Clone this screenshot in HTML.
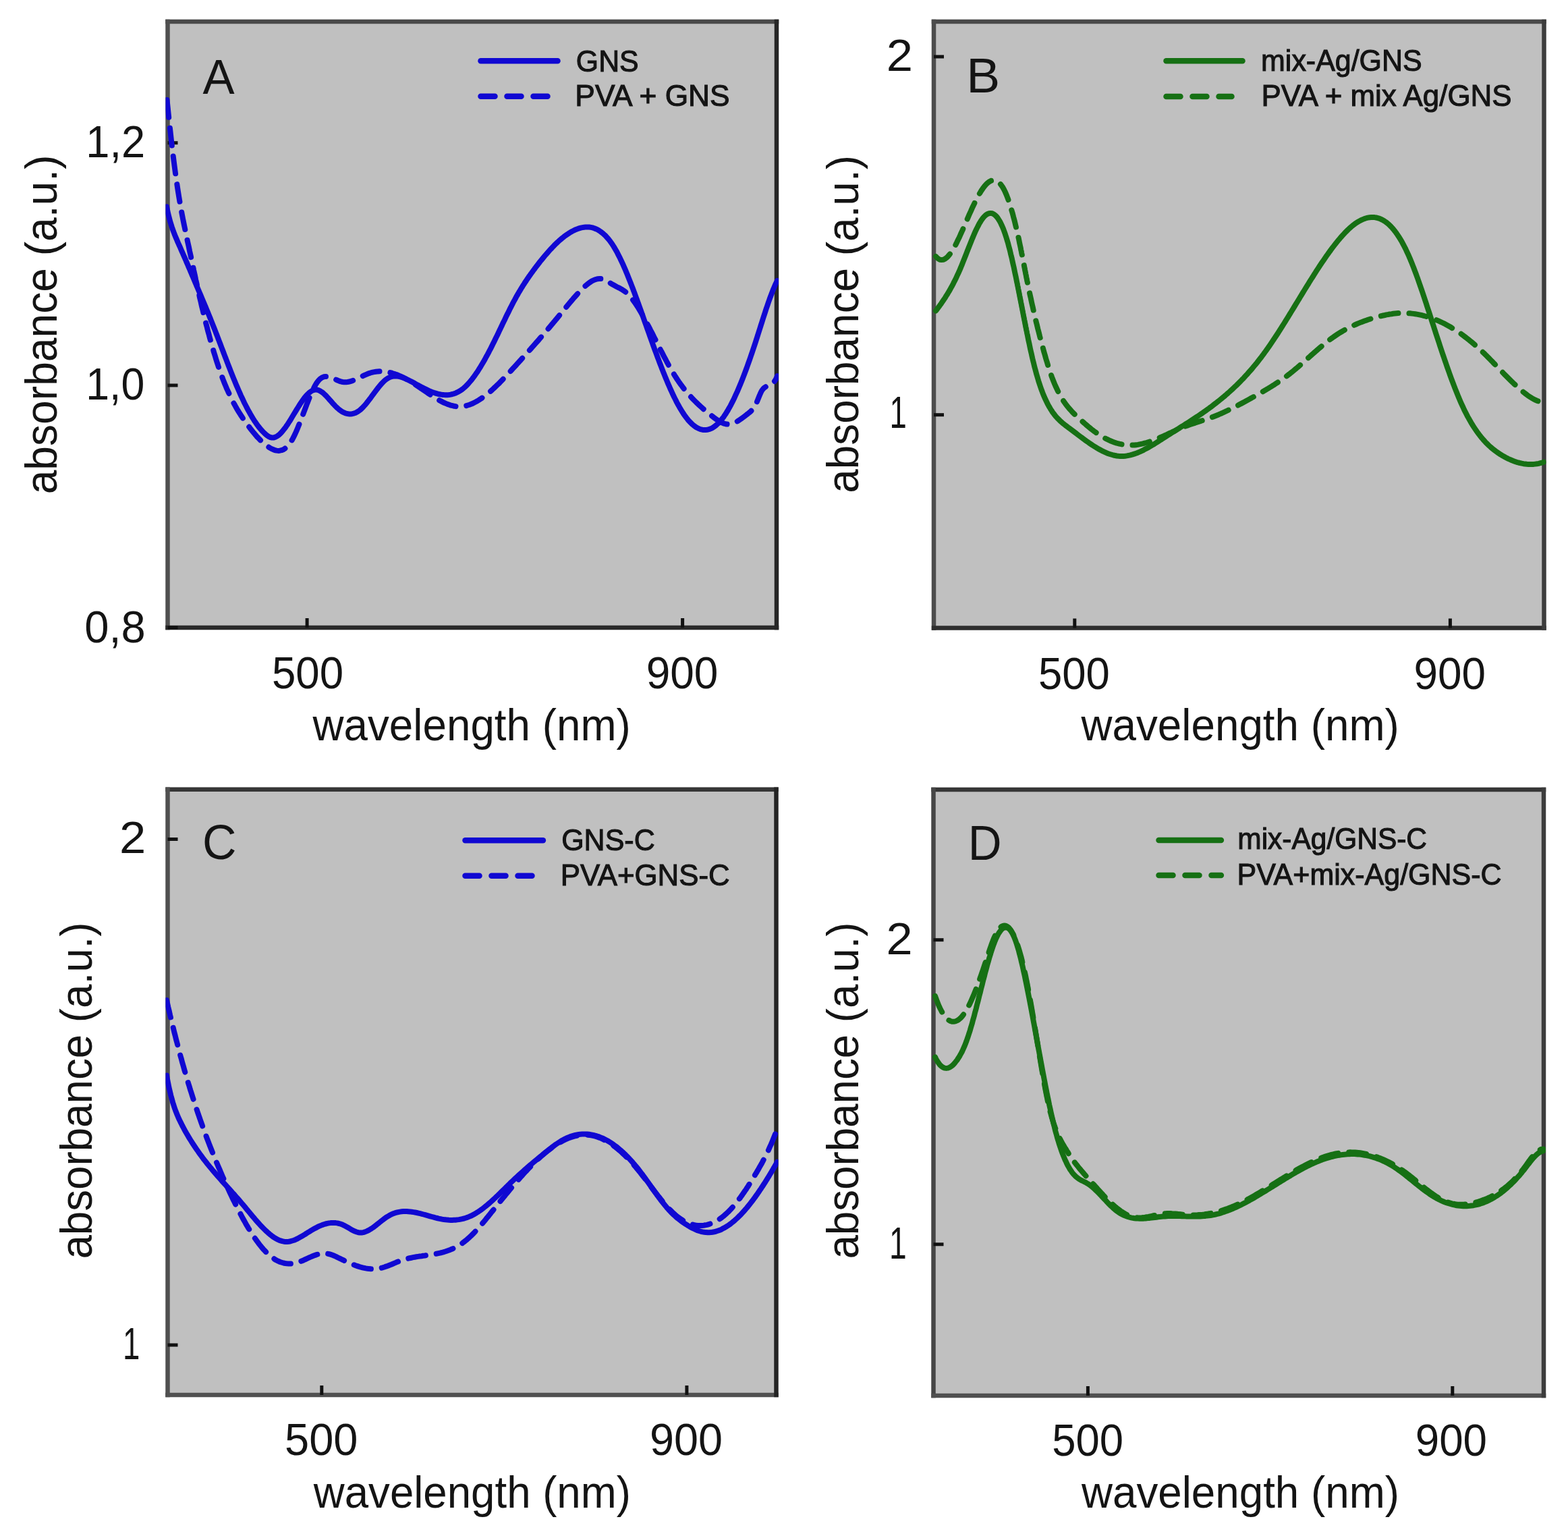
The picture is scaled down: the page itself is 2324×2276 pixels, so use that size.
<!DOCTYPE html><html><head><meta charset="utf-8"><title>Absorbance spectra</title><style>html,body{margin:0;padding:0;background:#fff;}svg{display:block;}</style></head><body>
<svg xmlns="http://www.w3.org/2000/svg" width="2324" height="2276" viewBox="0 0 2324 2276">
<rect x="0" y="0" width="2324" height="2276" fill="#fff"/>
<clipPath id="clipA"><rect x="245.5" y="32.0" width="908.5" height="898.0"/></clipPath>
<rect x="248.5" y="32.0" width="902.5" height="898.0" fill="#c0c0c0"/>
<line x1="248.5" y1="32.0" x2="1151.0" y2="32.0" stroke="#4a4a4a" stroke-width="6.5" stroke-linecap="square"/>
<line x1="248.5" y1="32.0" x2="248.5" y2="930.0" stroke="#505050" stroke-width="6.5" stroke-linecap="square"/>
<line x1="248.5" y1="930.0" x2="1151.0" y2="930.0" stroke="#2a2a2a" stroke-width="6.5" stroke-linecap="square"/>
<line x1="1151.0" y1="32.0" x2="1151.0" y2="930.0" stroke="#262626" stroke-width="6.5" stroke-linecap="square"/>
<line x1="455.1" y1="930.0" x2="455.1" y2="916.0" stroke="#111" stroke-width="5"/>
<line x1="1011.6" y1="930.0" x2="1011.6" y2="916.0" stroke="#111" stroke-width="5"/>
<line x1="248.5" y1="211.7" x2="263.5" y2="211.7" stroke="#111" stroke-width="5"/>
<line x1="248.5" y1="571.0" x2="263.5" y2="571.0" stroke="#111" stroke-width="5"/>
<line x1="248.5" y1="930.0" x2="263.5" y2="930.0" stroke="#111" stroke-width="5"/>
<g clip-path="url(#clipA)" fill="none" stroke-width="8.0" stroke-linejoin="round">
<path d="M247.5,148.0 L248.0,152.9 L248.5,157.7 L249.0,162.5 L249.5,167.3 L250.0,172.1 L250.5,176.8 L251.0,181.5 L251.5,186.1 L252.0,190.7 L252.5,195.3 L253.0,199.8 L253.5,204.2 L254.0,208.6 L254.5,213.0 L255.0,217.2 L255.5,221.4 L256.0,225.6 L256.5,229.7 L257.0,233.7 L257.5,237.7 L258.0,241.6 L258.5,245.5 L259.0,249.3 L259.5,253.0 L260.0,256.7 L260.5,260.3 L261.0,263.9 L261.5,267.4 L262.0,270.8 L262.5,274.2 L263.0,277.6 L263.5,280.9 L264.0,284.1 L264.5,287.2 L265.0,290.3 L265.5,293.4 L266.0,296.4 L266.5,299.3 L267.0,302.2 L267.5,305.1 L268.0,307.9 L268.5,310.7 L269.0,313.4 L269.5,316.1 L270.0,318.7 L270.5,321.3 L271.0,323.9 L271.5,326.4 L272.0,328.9 L272.5,331.4 L273.0,333.9 L273.8,337.5 L274.5,341.1 L275.2,344.7 L276.0,348.2 L276.8,351.7 L277.5,355.2 L278.2,358.7 L279.0,362.1 L279.8,365.6 L280.5,369.1 L281.2,372.6 L282.0,376.1 L282.8,379.6 L283.5,383.1 L284.2,386.6 L285.0,390.1 L285.8,393.6 L286.5,397.1 L287.2,400.6 L288.0,404.1 L288.8,407.6 L289.5,411.1 L290.2,414.6 L291.0,418.0 L291.8,421.5 L292.5,424.9 L293.2,428.3 L294.0,431.6 L294.8,435.0 L295.5,438.3 L296.2,441.6 L297.0,444.9 L297.8,448.1 L298.5,451.3 L299.2,454.5 L300.0,457.6 L300.8,460.8 L301.5,463.9 L302.2,466.9 L303.0,470.0 L303.8,473.0 L304.5,476.0 L305.2,479.0 L306.0,481.9 L306.8,484.8 L307.5,487.7 L308.2,490.6 L309.0,493.4 L309.8,496.2 L310.5,498.9 L311.2,501.7 L312.0,504.4 L312.8,507.1 L313.5,509.7 L314.2,512.4 L315.0,514.9 L315.8,517.5 L316.5,520.1 L317.2,522.6 L318.0,525.0 L318.8,527.5 L319.5,529.9 L320.2,532.3 L321.2,535.4 L322.2,538.5 L323.2,541.6 L324.2,544.5 L325.2,547.5 L326.2,550.3 L327.2,553.1 L328.2,555.9 L329.2,558.6 L330.2,561.3 L331.2,563.9 L332.2,566.4 L333.2,568.9 L334.2,571.3 L335.2,573.7 L336.2,576.1 L337.5,578.9 L338.8,581.7 L340.0,584.4 L341.2,587.0 L342.5,589.6 L343.8,592.1 L345.0,594.6 L346.2,597.0 L347.5,599.3 L348.8,601.6 L350.0,603.8 L351.5,606.4 L353.0,608.9 L354.5,611.3 L356.0,613.7 L357.5,616.1 L359.0,618.3 L360.5,620.6 L362.0,622.7 L363.5,624.9 L365.0,627.0 L366.5,629.0 L368.0,631.0 L369.8,633.3 L371.5,635.6 L373.2,637.8 L375.0,640.0 L376.8,642.1 L378.5,644.2 L380.2,646.2 L382.0,648.2 L383.8,650.0 L385.5,651.8 L387.5,653.8 L389.5,655.7 L391.5,657.4 L393.5,659.1 L395.5,660.6 L397.8,662.2 L400.0,663.6 L402.2,664.9 L404.8,666.0 L407.2,667.0 L409.8,667.6 L412.2,667.9 L414.8,667.7 L417.2,667.2 L419.8,666.2 L422.0,664.9 L424.0,663.4 L426.0,661.5 L427.8,659.5 L429.5,657.2 L431.0,655.0 L432.5,652.5 L433.8,650.3 L435.0,647.9 L436.2,645.4 L437.5,642.7 L438.8,639.9 L439.8,637.6 L440.8,635.2 L441.8,632.8 L442.8,630.3 L443.8,627.8 L444.8,625.3 L445.8,622.7 L446.8,620.1 L447.8,617.4 L448.8,614.8 L449.8,612.1 L450.8,609.5 L451.8,606.8 L452.8,604.2 L453.8,601.5 L454.8,598.9 L455.8,596.4 L456.8,593.8 L457.8,591.3 L458.8,588.9 L459.8,586.5 L460.8,584.2 L462.0,581.3 L463.2,578.6 L464.5,576.1 L465.8,573.6 L467.0,571.3 L468.5,568.8 L470.0,566.5 L471.8,564.2 L473.5,562.3 L475.5,560.6 L477.8,559.2 L480.2,558.3 L482.8,557.9 L485.2,557.9 L487.8,558.4 L490.2,559.1 L492.8,560.1 L495.2,561.2 L497.8,562.4 L500.2,563.5 L502.8,564.6 L505.2,565.4 L507.8,566.0 L510.2,566.3 L512.8,566.3 L515.2,566.0 L517.8,565.5 L520.2,564.9 L522.8,564.0 L525.2,563.1 L527.8,562.0 L530.2,560.8 L532.8,559.6 L535.0,558.5 L537.2,557.4 L539.8,556.2 L542.2,555.1 L544.8,554.0 L547.2,553.1 L549.8,552.3 L552.2,551.6 L554.8,551.1 L557.2,550.7 L559.8,550.4 L562.2,550.3 L564.8,550.3 L567.2,550.4 L569.8,550.6 L572.2,550.9 L574.8,551.3 L577.2,551.8 L579.8,552.4 L582.2,553.2 L584.8,554.0 L587.2,554.9 L589.8,555.8 L592.2,556.9 L594.8,558.0 L597.2,559.2 L599.5,560.3 L601.8,561.5 L604.0,562.8 L606.2,564.1 L608.5,565.4 L610.8,566.8 L613.0,568.2 L615.2,569.6 L617.5,571.1 L619.8,572.6 L622.0,574.1 L624.2,575.7 L626.5,577.2 L628.8,578.8 L631.0,580.3 L633.2,581.8 L635.5,583.4 L637.8,584.9 L640.0,586.4 L642.2,587.8 L644.5,589.2 L646.8,590.6 L649.0,591.9 L651.2,593.2 L653.5,594.4 L655.8,595.6 L658.2,596.8 L660.8,597.9 L663.2,598.9 L665.8,599.8 L668.2,600.6 L670.8,601.2 L673.2,601.8 L675.8,602.2 L678.2,602.4 L680.8,602.5 L683.2,602.4 L685.8,602.2 L688.2,601.8 L690.8,601.2 L693.2,600.5 L695.8,599.7 L698.2,598.8 L700.8,597.7 L703.2,596.5 L705.5,595.3 L707.8,594.0 L710.0,592.6 L712.2,591.2 L714.5,589.6 L716.8,588.0 L718.8,586.5 L720.8,585.0 L722.8,583.3 L724.8,581.7 L726.8,580.0 L728.8,578.2 L730.8,576.4 L732.8,574.5 L734.8,572.6 L736.8,570.7 L738.8,568.8 L740.8,566.8 L742.8,564.7 L744.5,562.9 L746.2,561.1 L748.0,559.3 L749.8,557.4 L751.5,555.6 L753.2,553.7 L755.0,551.8 L756.8,549.9 L758.5,548.0 L760.2,546.1 L762.0,544.2 L763.8,542.3 L765.5,540.3 L767.2,538.4 L769.0,536.5 L770.8,534.6 L772.5,532.6 L774.2,530.7 L776.0,528.8 L777.8,526.8 L779.5,524.9 L781.2,522.9 L783.0,521.0 L784.8,519.0 L786.5,517.1 L788.2,515.1 L790.0,513.1 L791.8,511.1 L793.5,509.2 L795.2,507.2 L797.0,505.2 L798.8,503.2 L800.5,501.2 L802.2,499.2 L804.0,497.1 L805.8,495.1 L807.5,493.1 L809.2,491.0 L811.0,489.0 L812.8,486.9 L814.5,484.9 L816.2,482.8 L818.0,480.7 L819.8,478.6 L821.5,476.5 L823.2,474.4 L825.0,472.3 L826.8,470.2 L828.5,468.1 L830.2,465.9 L832.0,463.8 L833.8,461.6 L835.5,459.5 L837.2,457.4 L839.0,455.2 L840.8,453.1 L842.5,451.0 L844.2,448.9 L846.0,446.8 L847.8,444.8 L849.5,442.7 L851.2,440.7 L853.0,438.7 L854.8,436.7 L856.5,434.8 L858.2,432.9 L860.0,431.1 L861.8,429.3 L863.8,427.3 L865.8,425.3 L867.8,423.5 L869.8,421.8 L871.8,420.2 L874.0,418.6 L876.2,417.1 L878.5,415.8 L881.0,414.7 L883.5,413.8 L886.0,413.2 L888.5,413.0 L891.0,413.1 L893.5,413.6 L896.0,414.5 L898.5,415.7 L900.8,417.0 L903.0,418.4 L905.2,419.9 L907.5,421.3 L909.8,422.6 L912.0,423.8 L914.2,425.0 L916.5,426.1 L918.8,427.2 L921.0,428.4 L923.2,429.8 L925.5,431.3 L927.5,432.9 L929.5,434.6 L931.5,436.6 L933.2,438.5 L935.0,440.5 L936.8,442.7 L938.5,445.0 L940.0,447.1 L941.5,449.3 L943.0,451.5 L944.5,453.8 L946.0,456.2 L947.5,458.7 L949.0,461.2 L950.5,463.8 L951.8,466.0 L953.0,468.2 L954.2,470.5 L955.5,472.7 L956.8,475.0 L958.0,477.4 L959.2,479.7 L960.5,482.1 L961.8,484.5 L963.0,486.9 L964.2,489.3 L965.5,491.7 L966.8,494.2 L968.0,496.6 L969.2,499.1 L970.5,501.6 L971.8,504.0 L973.0,506.5 L974.2,509.0 L975.5,511.4 L976.8,513.9 L978.0,516.4 L979.2,518.8 L980.5,521.2 L981.8,523.7 L983.0,526.1 L984.2,528.5 L985.5,530.8 L986.8,533.2 L988.0,535.5 L989.2,537.8 L990.5,540.1 L991.8,542.4 L993.0,544.6 L994.2,546.8 L995.8,549.4 L997.2,551.9 L998.8,554.4 L1000.2,556.8 L1001.8,559.1 L1003.2,561.4 L1004.8,563.7 L1006.2,565.9 L1007.8,568.0 L1009.2,570.1 L1010.8,572.1 L1012.5,574.4 L1014.2,576.7 L1016.0,578.8 L1017.8,580.9 L1019.5,583.0 L1021.2,585.0 L1023.0,587.0 L1024.8,588.9 L1026.5,590.7 L1028.2,592.5 L1030.2,594.5 L1032.2,596.5 L1034.2,598.4 L1036.2,600.3 L1038.2,602.1 L1040.2,603.9 L1042.2,605.7 L1044.2,607.4 L1046.2,609.1 L1048.2,610.7 L1050.2,612.4 L1052.2,614.0 L1054.2,615.6 L1056.2,617.2 L1058.2,618.8 L1060.2,620.3 L1062.5,621.9 L1064.8,623.4 L1067.0,624.8 L1069.2,626.0 L1071.8,627.1 L1074.2,627.9 L1076.8,628.5 L1079.2,628.7 L1081.8,628.6 L1084.2,628.1 L1086.8,627.3 L1089.2,626.2 L1091.5,625.1 L1093.8,623.8 L1096.0,622.3 L1098.2,620.8 L1100.5,619.1 L1102.5,617.6 L1104.5,616.1 L1106.5,614.5 L1108.5,613.0 L1110.5,611.4 L1112.5,609.7 L1114.5,607.6 L1116.2,605.5 L1117.8,603.3 L1119.2,600.8 L1120.5,598.4 L1121.8,595.7 L1122.8,593.3 L1123.8,590.8 L1124.8,588.3 L1125.8,585.8 L1126.8,583.5 L1128.0,580.9 L1129.2,578.7 L1130.8,576.6 L1132.5,574.8 L1134.8,573.2 L1137.2,572.0 L1139.8,571.2 L1142.2,570.2 L1144.5,568.8 L1146.5,567.0 L1148.2,564.7 L1149.8,562.2 L1151.0,559.5 L1152.0,557.1" stroke="#1008d2" stroke-dasharray="26 16" stroke-linecap="round"/>
<path d="M247.0,306.3 L247.8,309.9 L248.5,313.3 L249.2,316.6 L250.0,319.7 L250.8,322.7 L251.5,325.5 L252.2,328.2 L253.0,330.8 L253.8,333.3 L254.8,336.5 L255.8,339.4 L256.8,342.3 L257.8,344.9 L258.8,347.5 L259.8,350.0 L260.8,352.4 L261.8,354.7 L263.0,357.6 L264.2,360.4 L265.5,363.2 L266.8,366.0 L268.0,368.8 L269.2,371.7 L270.5,374.5 L271.5,376.8 L272.5,379.1 L273.5,381.4 L274.5,383.7 L275.5,386.0 L276.5,388.4 L277.5,390.7 L278.5,393.0 L279.5,395.4 L280.5,397.7 L281.5,400.0 L282.5,402.4 L283.5,404.7 L284.5,407.1 L285.5,409.4 L286.5,411.8 L287.5,414.1 L288.5,416.5 L289.5,418.9 L290.5,421.2 L291.5,423.6 L292.5,425.9 L293.5,428.3 L294.5,430.6 L295.5,433.0 L296.5,435.4 L297.5,437.7 L298.5,440.1 L299.5,442.5 L300.5,444.8 L301.5,447.2 L302.5,449.6 L303.5,452.0 L304.5,454.4 L305.5,456.8 L306.5,459.2 L307.5,461.6 L308.5,464.1 L309.5,466.5 L310.5,469.0 L311.5,471.4 L312.5,473.9 L313.5,476.4 L314.5,478.9 L315.5,481.4 L316.5,483.9 L317.5,486.5 L318.5,489.0 L319.5,491.6 L320.5,494.2 L321.5,496.8 L322.5,499.4 L323.5,502.0 L324.5,504.6 L325.5,507.2 L326.5,509.8 L327.5,512.5 L328.5,515.1 L329.5,517.7 L330.5,520.3 L331.5,523.0 L332.5,525.6 L333.5,528.2 L334.5,530.8 L335.5,533.4 L336.5,536.0 L337.5,538.6 L338.5,541.2 L339.5,543.8 L340.5,546.3 L341.5,548.9 L342.5,551.4 L343.5,553.9 L344.5,556.4 L345.5,558.9 L346.5,561.4 L347.5,563.8 L348.5,566.3 L349.5,568.7 L350.5,571.1 L351.5,573.4 L352.5,575.7 L353.5,578.0 L354.8,580.9 L356.0,583.7 L357.2,586.4 L358.5,589.1 L359.8,591.8 L361.0,594.4 L362.2,597.0 L363.5,599.5 L364.8,602.0 L366.0,604.4 L367.2,606.7 L368.5,609.0 L369.8,611.3 L371.0,613.5 L372.5,616.1 L374.0,618.6 L375.5,621.0 L377.0,623.4 L378.5,625.6 L380.0,627.8 L381.5,629.9 L383.0,631.9 L384.8,634.1 L386.5,636.2 L388.2,638.2 L390.0,640.0 L392.0,642.0 L394.0,643.8 L396.0,645.4 L398.2,646.8 L400.8,648.0 L403.2,648.5 L405.8,648.4 L408.2,647.6 L410.5,646.5 L412.8,644.9 L414.8,643.2 L416.8,641.2 L418.5,639.2 L420.2,637.1 L422.0,634.8 L423.5,632.8 L425.0,630.6 L426.5,628.4 L428.0,626.0 L429.5,623.7 L431.0,621.3 L432.5,618.8 L434.0,616.3 L435.5,613.8 L437.0,611.4 L438.5,608.9 L440.0,606.4 L441.5,604.0 L443.0,601.6 L444.5,599.2 L446.0,596.9 L447.5,594.7 L449.0,592.6 L450.5,590.5 L452.2,588.3 L454.0,586.2 L455.8,584.3 L457.8,582.4 L459.8,580.7 L462.0,579.2 L464.5,578.1 L467.0,577.5 L469.5,577.5 L472.0,578.1 L474.5,579.3 L476.8,580.8 L478.8,582.3 L480.8,584.1 L482.8,586.0 L484.5,587.8 L486.2,589.7 L488.0,591.7 L489.8,593.7 L491.5,595.7 L493.2,597.7 L495.0,599.6 L496.8,601.5 L498.8,603.5 L500.8,605.3 L502.8,607.0 L505.0,608.7 L507.2,610.1 L509.5,611.3 L512.0,612.3 L514.5,613.0 L517.0,613.4 L519.5,613.5 L522.0,613.2 L524.5,612.6 L527.0,611.7 L529.2,610.5 L531.5,609.1 L533.5,607.6 L535.5,605.9 L537.5,603.9 L539.2,602.1 L541.0,600.1 L542.8,598.0 L544.5,595.8 L546.2,593.6 L548.0,591.3 L549.5,589.3 L551.0,587.2 L552.5,585.2 L554.0,583.1 L555.5,581.1 L557.0,579.1 L558.8,576.8 L560.5,574.5 L562.2,572.4 L564.0,570.3 L565.8,568.3 L567.5,566.5 L569.5,564.5 L571.5,562.8 L573.8,561.2 L576.0,559.8 L578.5,558.7 L581.0,557.9 L583.5,557.5 L586.0,557.3 L588.5,557.5 L591.0,557.8 L593.5,558.4 L596.0,559.2 L598.5,560.1 L601.0,561.2 L603.5,562.3 L605.8,563.4 L608.0,564.6 L610.2,565.7 L612.5,566.9 L614.8,568.1 L617.0,569.4 L619.2,570.6 L621.5,571.8 L623.8,573.0 L626.0,574.2 L628.2,575.3 L630.5,576.4 L633.0,577.6 L635.5,578.8 L638.0,579.9 L640.5,580.9 L643.0,581.8 L645.5,582.6 L648.0,583.4 L650.5,584.0 L653.0,584.5 L655.5,584.9 L658.0,585.1 L660.5,585.2 L663.0,585.2 L665.5,585.0 L668.0,584.6 L670.5,584.0 L673.0,583.3 L675.5,582.4 L678.0,581.2 L680.2,580.0 L682.5,578.6 L684.8,577.1 L686.8,575.5 L688.8,573.8 L690.8,571.9 L692.8,569.9 L694.5,568.0 L696.2,566.0 L698.0,563.9 L699.8,561.7 L701.5,559.4 L703.0,557.4 L704.5,555.3 L706.0,553.1 L707.5,550.9 L709.0,548.6 L710.5,546.2 L712.0,543.8 L713.5,541.3 L715.0,538.8 L716.5,536.2 L717.8,534.0 L719.0,531.8 L720.2,529.5 L721.5,527.2 L722.8,524.9 L724.0,522.6 L725.2,520.2 L726.5,517.8 L727.8,515.3 L729.0,512.9 L730.2,510.4 L731.5,507.9 L732.8,505.4 L734.0,502.8 L735.2,500.3 L736.5,497.7 L737.8,495.1 L739.0,492.5 L740.2,489.9 L741.5,487.3 L742.8,484.6 L744.0,482.0 L745.2,479.4 L746.5,476.8 L747.8,474.2 L749.0,471.6 L750.2,469.0 L751.5,466.4 L752.8,463.9 L754.0,461.4 L755.2,458.9 L756.5,456.4 L757.8,453.9 L759.0,451.5 L760.2,449.1 L761.5,446.7 L762.8,444.4 L764.0,442.1 L765.2,439.8 L766.5,437.6 L767.8,435.4 L769.2,432.9 L770.8,430.3 L772.2,427.9 L773.8,425.4 L775.2,423.0 L776.8,420.7 L778.2,418.4 L779.8,416.1 L781.2,413.9 L782.8,411.7 L784.2,409.5 L785.8,407.4 L787.2,405.3 L788.8,403.2 L790.2,401.2 L791.8,399.1 L793.2,397.1 L795.0,394.8 L796.8,392.5 L798.5,390.3 L800.2,388.0 L802.0,385.8 L803.8,383.7 L805.5,381.5 L807.2,379.4 L809.0,377.4 L810.8,375.3 L812.5,373.3 L814.2,371.4 L816.0,369.4 L817.8,367.6 L819.5,365.7 L821.2,363.9 L823.2,361.9 L825.2,360.0 L827.2,358.1 L829.2,356.3 L831.2,354.6 L833.2,352.9 L835.2,351.3 L837.2,349.7 L839.5,348.1 L841.8,346.6 L844.0,345.1 L846.2,343.8 L848.5,342.5 L850.8,341.4 L853.2,340.2 L855.8,339.2 L858.2,338.4 L860.8,337.6 L863.2,337.1 L865.8,336.7 L868.2,336.4 L870.8,336.4 L873.2,336.5 L875.8,336.9 L878.2,337.4 L880.8,338.2 L883.2,339.2 L885.8,340.4 L888.0,341.7 L890.2,343.2 L892.2,344.7 L894.2,346.4 L896.2,348.2 L898.2,350.2 L900.0,352.2 L901.8,354.2 L903.5,356.4 L905.0,358.4 L906.5,360.6 L908.0,362.8 L909.5,365.1 L911.0,367.6 L912.5,370.2 L913.8,372.4 L915.0,374.7 L916.2,377.1 L917.5,379.6 L918.8,382.1 L920.0,384.7 L921.2,387.3 L922.5,390.0 L923.8,392.8 L925.0,395.6 L926.0,397.9 L927.0,400.2 L928.0,402.6 L929.0,405.0 L930.0,407.4 L931.0,409.9 L932.0,412.4 L933.0,414.9 L934.0,417.4 L935.0,420.0 L936.0,422.6 L937.0,425.2 L938.0,427.8 L939.0,430.5 L940.0,433.2 L941.0,435.8 L942.0,438.6 L943.0,441.3 L944.0,444.0 L945.0,446.8 L946.0,449.5 L947.0,452.3 L948.0,455.1 L949.0,457.9 L950.0,460.7 L951.0,463.5 L952.0,466.3 L953.0,469.1 L954.0,472.0 L955.0,474.8 L956.0,477.6 L957.0,480.4 L958.0,483.3 L959.0,486.1 L960.0,488.9 L961.0,491.7 L962.0,494.5 L963.0,497.3 L964.0,500.1 L965.0,502.9 L966.0,505.7 L967.0,508.5 L968.0,511.3 L969.0,514.0 L970.0,516.8 L971.0,519.5 L972.0,522.2 L973.0,524.9 L974.0,527.6 L975.0,530.3 L976.0,532.9 L977.0,535.6 L978.0,538.2 L979.0,540.8 L980.0,543.4 L981.0,546.0 L982.0,548.5 L983.0,551.1 L984.0,553.6 L985.0,556.0 L986.0,558.5 L987.0,560.9 L988.0,563.3 L989.0,565.7 L990.0,568.1 L991.0,570.4 L992.0,572.7 L993.2,575.5 L994.5,578.3 L995.8,581.1 L997.0,583.7 L998.2,586.4 L999.5,589.0 L1000.8,591.5 L1002.0,593.9 L1003.2,596.4 L1004.5,598.7 L1005.8,601.0 L1007.0,603.2 L1008.5,605.8 L1010.0,608.3 L1011.5,610.7 L1013.0,613.0 L1014.5,615.2 L1016.0,617.3 L1017.8,619.6 L1019.5,621.8 L1021.2,623.8 L1023.0,625.7 L1025.0,627.7 L1027.0,629.5 L1029.0,631.1 L1031.2,632.7 L1033.5,634.0 L1035.8,635.1 L1038.2,636.1 L1040.8,636.7 L1043.2,637.0 L1045.8,637.1 L1048.2,636.8 L1050.8,636.2 L1053.2,635.3 L1055.8,634.1 L1058.0,632.7 L1060.2,631.1 L1062.2,629.4 L1064.2,627.6 L1066.0,625.8 L1067.8,623.8 L1069.5,621.7 L1071.2,619.4 L1072.8,617.4 L1074.2,615.2 L1075.8,612.9 L1077.2,610.5 L1078.8,608.0 L1080.2,605.4 L1081.5,603.2 L1082.8,600.9 L1084.0,598.5 L1085.2,596.1 L1086.5,593.6 L1087.8,591.0 L1089.0,588.4 L1090.2,585.7 L1091.5,582.9 L1092.8,580.1 L1094.0,577.2 L1095.0,574.9 L1096.0,572.5 L1097.0,570.1 L1098.0,567.7 L1099.0,565.2 L1100.0,562.7 L1101.0,560.2 L1102.0,557.6 L1103.0,555.0 L1104.0,552.3 L1105.0,549.7 L1106.0,547.0 L1107.0,544.3 L1108.0,541.5 L1109.0,538.7 L1110.0,535.9 L1111.0,533.1 L1112.0,530.2 L1113.0,527.3 L1114.0,524.4 L1115.0,521.4 L1116.0,518.5 L1117.0,515.5 L1118.0,512.5 L1119.0,509.4 L1120.0,506.4 L1121.0,503.3 L1122.0,500.2 L1123.0,497.1 L1124.0,493.9 L1125.0,490.8 L1126.0,487.6 L1127.0,484.5 L1128.0,481.3 L1129.0,478.2 L1130.0,475.1 L1131.0,471.9 L1132.0,468.8 L1133.0,465.7 L1134.0,462.7 L1135.0,459.6 L1136.0,456.6 L1137.0,453.7 L1138.0,450.7 L1139.0,447.8 L1140.0,445.0 L1141.0,442.2 L1142.0,439.5 L1143.0,436.8 L1144.0,434.2 L1145.0,431.6 L1146.0,429.1 L1147.0,426.7 L1148.0,424.4 L1149.2,421.6 L1150.5,418.9 L1151.8,416.4 L1152.0,415.9" stroke="#1008d2" stroke-linecap="round"/>
</g>
<line x1="712.5" y1="90.2" x2="826.5" y2="90.2" stroke="#1008d2" stroke-width="8.5" stroke-linecap="round"/>
<line x1="712.5" y1="142.8" x2="811.5" y2="142.8" stroke="#1008d2" stroke-width="8.5" stroke-linecap="round" stroke-dasharray="21 18"/>
<clipPath id="clipB"><rect x="1381.0" y="32.0" width="910.5" height="898.5"/></clipPath>
<rect x="1384.0" y="32.0" width="904.5" height="898.5" fill="#c0c0c0"/>
<line x1="1384.0" y1="32.0" x2="2288.5" y2="32.0" stroke="#4a4a4a" stroke-width="6.5" stroke-linecap="square"/>
<line x1="1384.0" y1="32.0" x2="1384.0" y2="930.5" stroke="#4c4c4c" stroke-width="6.5" stroke-linecap="square"/>
<line x1="1384.0" y1="930.5" x2="2288.5" y2="930.5" stroke="#2e2e2e" stroke-width="6.5" stroke-linecap="square"/>
<line x1="2288.5" y1="32.0" x2="2288.5" y2="930.5" stroke="#3c3c3c" stroke-width="6.5" stroke-linecap="square"/>
<line x1="1592.8" y1="930.5" x2="1592.8" y2="916.5" stroke="#111" stroke-width="5"/>
<line x1="2149.4" y1="930.5" x2="2149.4" y2="916.5" stroke="#111" stroke-width="5"/>
<line x1="1384.0" y1="84.0" x2="1399.0" y2="84.0" stroke="#111" stroke-width="5"/>
<line x1="1384.0" y1="614.7" x2="1399.0" y2="614.7" stroke="#111" stroke-width="5"/>
<g clip-path="url(#clipB)" fill="none" stroke-width="8.0" stroke-linejoin="round">
<path d="M1387.0,379.9 L1388.8,381.9 L1390.8,383.5 L1393.0,384.7 L1395.5,385.1 L1398.0,384.8 L1400.5,383.6 L1402.8,382.0 L1404.8,380.2 L1406.5,378.2 L1408.2,376.0 L1409.8,373.9 L1411.2,371.6 L1412.8,369.2 L1414.2,366.5 L1415.5,364.3 L1416.8,361.9 L1418.0,359.5 L1419.2,356.9 L1420.5,354.3 L1421.8,351.7 L1423.0,349.0 L1424.2,346.2 L1425.5,343.4 L1426.8,340.6 L1428.0,337.7 L1429.0,335.4 L1430.0,333.1 L1431.0,330.8 L1432.0,328.5 L1433.0,326.2 L1434.0,323.9 L1435.0,321.6 L1436.2,318.7 L1437.5,315.9 L1438.8,313.1 L1440.0,310.3 L1441.2,307.6 L1442.5,304.9 L1443.8,302.3 L1445.0,299.7 L1446.2,297.2 L1447.5,294.8 L1448.8,292.4 L1450.0,290.1 L1451.2,287.9 L1452.8,285.3 L1454.2,282.9 L1455.8,280.6 L1457.2,278.5 L1459.0,276.2 L1460.8,274.1 L1462.5,272.3 L1464.5,270.5 L1466.8,268.9 L1469.0,267.7 L1471.5,267.1 L1474.0,267.0 L1476.5,267.7 L1478.8,268.9 L1480.8,270.5 L1482.5,272.3 L1484.2,274.6 L1485.8,276.8 L1487.2,279.3 L1488.5,281.7 L1489.8,284.3 L1491.0,287.1 L1492.0,289.5 L1493.0,292.1 L1494.0,294.7 L1495.0,297.5 L1496.0,300.5 L1497.0,303.6 L1497.8,306.0 L1498.5,308.4 L1499.2,311.0 L1500.0,313.6 L1500.8,316.2 L1501.5,319.0 L1502.2,321.8 L1503.0,324.6 L1503.8,327.6 L1504.5,330.6 L1505.2,333.6 L1506.0,336.8 L1506.8,340.0 L1507.5,343.2 L1508.2,346.5 L1509.0,349.9 L1509.8,353.3 L1510.5,356.8 L1511.2,360.4 L1512.0,364.0 L1512.8,367.6 L1513.2,370.1 L1513.8,372.6 L1514.2,375.1 L1514.8,377.6 L1515.2,380.1 L1515.8,382.7 L1516.2,385.2 L1516.8,387.8 L1517.2,390.3 L1517.8,392.9 L1518.2,395.4 L1518.8,398.0 L1519.2,400.5 L1519.8,403.1 L1520.2,405.6 L1520.8,408.1 L1521.2,410.7 L1521.8,413.2 L1522.2,415.7 L1522.8,418.1 L1523.2,420.6 L1524.0,424.2 L1524.8,427.8 L1525.5,431.4 L1526.2,435.0 L1527.0,438.5 L1527.8,441.9 L1528.5,445.4 L1529.2,448.8 L1530.0,452.1 L1530.8,455.5 L1531.5,458.8 L1532.2,462.0 L1533.0,465.3 L1533.8,468.5 L1534.5,471.6 L1535.2,474.8 L1536.0,477.9 L1536.8,481.0 L1537.5,484.0 L1538.2,487.0 L1539.0,490.0 L1539.8,493.0 L1540.5,495.9 L1541.2,498.8 L1542.0,501.7 L1542.8,504.5 L1543.5,507.3 L1544.2,510.1 L1545.0,512.9 L1545.8,515.6 L1546.5,518.3 L1547.2,521.0 L1548.0,523.7 L1548.8,526.3 L1549.5,528.9 L1550.2,531.4 L1551.0,534.0 L1551.8,536.4 L1552.5,538.9 L1553.2,541.3 L1554.2,544.5 L1555.2,547.5 L1556.2,550.5 L1557.2,553.5 L1558.2,556.3 L1559.2,559.1 L1560.2,561.7 L1561.2,564.3 L1562.2,566.8 L1563.2,569.2 L1564.2,571.5 L1565.5,574.3 L1566.8,577.0 L1568.0,579.6 L1569.2,582.1 L1570.5,584.4 L1571.8,586.7 L1573.0,588.9 L1574.5,591.3 L1576.0,593.7 L1577.5,595.9 L1579.0,598.1 L1580.5,600.1 L1582.2,602.3 L1584.0,604.5 L1585.8,606.5 L1587.5,608.4 L1589.2,610.3 L1591.2,612.3 L1593.2,614.3 L1595.2,616.2 L1597.2,618.1 L1599.2,619.9 L1601.2,621.7 L1603.2,623.6 L1605.2,625.4 L1607.2,627.1 L1609.2,628.9 L1611.2,630.6 L1613.2,632.3 L1615.2,633.9 L1617.2,635.6 L1619.2,637.1 L1621.2,638.7 L1623.5,640.3 L1625.8,641.9 L1628.0,643.4 L1630.2,644.9 L1632.5,646.3 L1634.8,647.6 L1637.0,648.9 L1639.2,650.1 L1641.5,651.2 L1644.0,652.4 L1646.5,653.5 L1649.0,654.5 L1651.5,655.4 L1654.0,656.3 L1656.5,657.0 L1659.0,657.7 L1661.5,658.2 L1664.0,658.7 L1666.5,659.1 L1669.0,659.4 L1671.5,659.6 L1674.0,659.7 L1676.5,659.7 L1679.0,659.6 L1681.5,659.5 L1684.0,659.2 L1686.5,658.9 L1689.0,658.4 L1691.5,657.9 L1694.0,657.4 L1696.5,656.7 L1699.0,656.0 L1701.5,655.2 L1704.0,654.4 L1706.5,653.5 L1709.0,652.6 L1711.5,651.6 L1714.0,650.6 L1716.5,649.6 L1719.0,648.5 L1721.5,647.4 L1724.0,646.3 L1726.5,645.2 L1729.0,644.1 L1731.5,642.9 L1734.0,641.7 L1736.5,640.6 L1739.0,639.4 L1741.5,638.3 L1744.0,637.2 L1746.5,636.1 L1749.0,635.0 L1751.5,633.9 L1754.0,632.9 L1756.5,631.9 L1759.0,630.9 L1761.5,630.0 L1764.0,629.1 L1766.5,628.2 L1769.0,627.4 L1771.5,626.6 L1774.0,625.7 L1776.5,624.9 L1779.0,624.1 L1781.5,623.3 L1784.0,622.5 L1786.5,621.7 L1789.0,620.9 L1791.5,620.0 L1794.0,619.1 L1796.5,618.2 L1799.0,617.2 L1801.5,616.2 L1804.0,615.2 L1806.5,614.2 L1809.0,613.1 L1811.5,612.0 L1814.0,610.8 L1816.5,609.7 L1819.0,608.5 L1821.5,607.3 L1823.8,606.2 L1826.0,605.1 L1828.2,603.9 L1830.5,602.8 L1832.8,601.6 L1835.0,600.5 L1837.2,599.3 L1839.5,598.1 L1841.8,596.9 L1844.0,595.7 L1846.2,594.5 L1848.5,593.2 L1850.8,592.0 L1853.0,590.8 L1855.2,589.5 L1857.5,588.3 L1859.8,587.0 L1862.0,585.8 L1864.2,584.5 L1866.5,583.3 L1868.8,582.0 L1871.0,580.7 L1873.2,579.4 L1875.5,578.1 L1877.8,576.7 L1880.0,575.4 L1882.2,574.0 L1884.5,572.6 L1886.8,571.2 L1889.0,569.8 L1891.2,568.3 L1893.5,566.8 L1895.8,565.3 L1898.0,563.8 L1900.2,562.2 L1902.5,560.6 L1904.8,559.0 L1907.0,557.3 L1909.0,555.8 L1911.0,554.3 L1913.0,552.7 L1915.0,551.1 L1917.0,549.5 L1919.0,547.8 L1921.0,546.1 L1923.0,544.5 L1925.0,542.7 L1927.0,541.0 L1929.0,539.3 L1931.0,537.5 L1933.0,535.7 L1935.0,534.0 L1937.0,532.2 L1939.0,530.4 L1941.0,528.6 L1943.0,526.8 L1945.0,525.0 L1947.0,523.3 L1949.0,521.5 L1951.0,519.8 L1953.0,518.0 L1955.0,516.3 L1957.0,514.6 L1959.0,512.9 L1961.0,511.2 L1963.0,509.6 L1965.0,507.9 L1967.0,506.4 L1969.0,504.8 L1971.0,503.3 L1973.2,501.6 L1975.5,500.0 L1977.8,498.4 L1980.0,496.9 L1982.2,495.4 L1984.5,493.9 L1986.8,492.5 L1989.0,491.2 L1991.2,489.9 L1993.5,488.6 L1995.8,487.4 L1998.0,486.2 L2000.2,485.1 L2002.5,484.0 L2005.0,482.8 L2007.5,481.6 L2010.0,480.5 L2012.5,479.4 L2015.0,478.4 L2017.5,477.4 L2020.0,476.5 L2022.5,475.6 L2025.0,474.7 L2027.5,473.8 L2030.0,473.0 L2032.5,472.2 L2035.0,471.5 L2037.5,470.7 L2040.0,470.0 L2042.5,469.4 L2045.0,468.7 L2047.5,468.1 L2050.0,467.5 L2052.5,467.0 L2055.0,466.4 L2057.5,466.0 L2060.0,465.5 L2062.5,465.2 L2065.0,464.8 L2067.5,464.5 L2070.0,464.3 L2072.5,464.1 L2075.0,464.0 L2077.5,463.9 L2080.0,463.9 L2082.5,463.9 L2085.0,464.0 L2087.5,464.1 L2090.0,464.3 L2092.5,464.6 L2095.0,464.9 L2097.5,465.2 L2100.0,465.6 L2102.5,466.1 L2105.0,466.6 L2107.5,467.2 L2110.0,467.8 L2112.5,468.5 L2115.0,469.2 L2117.5,470.0 L2120.0,470.8 L2122.5,471.7 L2125.0,472.6 L2127.5,473.6 L2130.0,474.6 L2132.5,475.7 L2135.0,476.8 L2137.5,478.0 L2139.8,479.1 L2142.0,480.3 L2144.2,481.5 L2146.5,482.7 L2148.8,484.0 L2151.0,485.3 L2153.2,486.7 L2155.5,488.1 L2157.8,489.5 L2160.0,491.0 L2162.2,492.5 L2164.5,494.1 L2166.8,495.7 L2169.0,497.3 L2171.2,499.0 L2173.2,500.5 L2175.2,502.1 L2177.2,503.7 L2179.2,505.3 L2181.2,506.9 L2183.2,508.6 L2185.2,510.3 L2187.2,512.1 L2189.2,513.9 L2191.2,515.7 L2193.2,517.5 L2195.2,519.4 L2197.2,521.3 L2199.2,523.2 L2201.2,525.2 L2203.2,527.1 L2205.2,529.2 L2207.2,531.2 L2209.0,533.0 L2210.8,534.8 L2212.5,536.6 L2214.2,538.4 L2216.0,540.2 L2217.8,542.0 L2219.5,543.9 L2221.2,545.7 L2223.0,547.5 L2224.8,549.3 L2226.5,551.2 L2228.2,553.0 L2230.0,554.8 L2231.8,556.6 L2233.8,558.6 L2235.8,560.6 L2237.8,562.6 L2239.8,564.6 L2241.8,566.5 L2243.8,568.5 L2245.8,570.3 L2247.8,572.2 L2249.8,574.0 L2251.8,575.8 L2253.8,577.5 L2255.8,579.2 L2257.8,580.9 L2259.8,582.5 L2261.8,584.0 L2264.0,585.7 L2266.2,587.2 L2268.5,588.7 L2270.8,590.1 L2273.0,591.4 L2275.2,592.5 L2277.8,593.7 L2280.2,594.6 L2282.8,595.4 L2285.2,596.0 L2287.8,596.4 L2288.0,596.4" stroke="#167014" stroke-dasharray="26 16" stroke-linecap="round"/>
<path d="M1387.0,460.6 L1388.8,458.3 L1390.2,456.3 L1391.8,454.2 L1393.2,452.2 L1394.8,450.1 L1396.2,447.9 L1397.8,445.7 L1399.2,443.5 L1400.8,441.2 L1402.2,438.8 L1403.8,436.4 L1405.2,434.0 L1406.8,431.4 L1408.0,429.3 L1409.2,427.0 L1410.5,424.8 L1411.8,422.4 L1413.0,420.1 L1414.2,417.6 L1415.5,415.1 L1416.8,412.5 L1418.0,409.9 L1419.2,407.2 L1420.5,404.5 L1421.8,401.6 L1422.8,399.3 L1423.8,396.9 L1424.8,394.5 L1425.8,392.1 L1426.8,389.6 L1427.8,387.1 L1428.8,384.6 L1429.8,382.1 L1430.8,379.5 L1431.8,377.0 L1432.8,374.4 L1433.8,371.8 L1434.8,369.3 L1435.8,366.7 L1436.8,364.2 L1437.8,361.7 L1438.8,359.2 L1439.8,356.7 L1440.8,354.3 L1441.8,351.9 L1442.8,349.5 L1443.8,347.2 L1445.0,344.4 L1446.2,341.7 L1447.5,339.0 L1448.8,336.5 L1450.0,334.1 L1451.2,331.7 L1452.5,329.6 L1454.0,327.1 L1455.5,324.9 L1457.2,322.6 L1459.0,320.6 L1461.0,318.8 L1463.2,317.2 L1465.8,316.2 L1468.2,315.9 L1470.8,316.3 L1473.2,317.5 L1475.2,319.1 L1477.0,320.9 L1478.8,323.1 L1480.2,325.3 L1481.8,327.8 L1483.0,330.1 L1484.2,332.7 L1485.5,335.5 L1486.5,337.8 L1487.5,340.4 L1488.5,343.1 L1489.5,345.9 L1490.5,348.9 L1491.5,352.0 L1492.2,354.4 L1493.0,357.0 L1493.8,359.6 L1494.5,362.3 L1495.2,365.1 L1496.0,367.9 L1496.8,370.9 L1497.5,373.9 L1498.2,377.0 L1499.0,380.1 L1499.8,383.3 L1500.5,386.6 L1501.2,389.9 L1502.0,393.3 L1502.8,396.7 L1503.5,400.2 L1504.2,403.7 L1505.0,407.3 L1505.8,410.9 L1506.5,414.5 L1507.2,418.2 L1507.8,420.6 L1508.2,423.1 L1508.8,425.6 L1509.2,428.1 L1509.8,430.6 L1510.2,433.1 L1510.8,435.7 L1511.2,438.2 L1511.8,440.7 L1512.2,443.3 L1512.8,445.8 L1513.2,448.4 L1513.8,450.9 L1514.2,453.5 L1514.8,456.0 L1515.2,458.6 L1515.8,461.2 L1516.2,463.7 L1516.8,466.3 L1517.2,468.8 L1517.8,471.4 L1518.2,473.9 L1518.8,476.4 L1519.2,478.9 L1519.8,481.5 L1520.2,484.0 L1520.8,486.5 L1521.2,489.0 L1521.8,491.4 L1522.2,493.9 L1522.8,496.3 L1523.5,500.0 L1524.2,503.6 L1525.0,507.2 L1525.8,510.7 L1526.5,514.2 L1527.2,517.7 L1528.0,521.1 L1528.8,524.4 L1529.5,527.7 L1530.2,530.9 L1531.0,534.1 L1531.8,537.2 L1532.5,540.2 L1533.2,543.2 L1534.0,546.0 L1534.8,548.9 L1535.5,551.6 L1536.2,554.3 L1537.0,556.9 L1537.8,559.5 L1538.5,562.0 L1539.2,564.4 L1540.2,567.5 L1541.2,570.6 L1542.2,573.5 L1543.2,576.3 L1544.2,579.0 L1545.2,581.7 L1546.2,584.2 L1547.2,586.6 L1548.2,589.0 L1549.5,591.8 L1550.8,594.5 L1552.0,597.0 L1553.2,599.4 L1554.5,601.7 L1555.8,603.9 L1557.2,606.4 L1558.8,608.8 L1560.2,611.0 L1561.8,613.0 L1563.5,615.3 L1565.2,617.4 L1567.0,619.4 L1568.8,621.2 L1570.8,623.2 L1572.8,625.0 L1574.8,626.8 L1576.8,628.4 L1578.8,630.0 L1580.8,631.5 L1583.0,633.2 L1585.2,634.8 L1587.5,636.5 L1589.5,638.0 L1591.5,639.5 L1593.5,641.0 L1595.5,642.5 L1597.5,644.1 L1599.5,645.6 L1601.5,647.1 L1603.8,648.8 L1606.0,650.4 L1608.2,652.1 L1610.5,653.7 L1612.8,655.3 L1615.0,656.9 L1617.2,658.4 L1619.5,659.9 L1621.8,661.3 L1624.0,662.7 L1626.2,664.1 L1628.5,665.4 L1630.8,666.6 L1633.0,667.8 L1635.2,668.9 L1637.8,670.1 L1640.2,671.2 L1642.8,672.2 L1645.2,673.0 L1647.8,673.8 L1650.2,674.5 L1652.8,675.0 L1655.2,675.5 L1657.8,675.8 L1660.2,676.0 L1662.8,676.0 L1665.2,675.9 L1667.8,675.7 L1670.2,675.4 L1672.8,674.9 L1675.2,674.4 L1677.8,673.7 L1680.2,672.9 L1682.8,672.1 L1685.2,671.2 L1687.8,670.1 L1690.2,669.1 L1692.8,667.9 L1695.0,666.8 L1697.2,665.6 L1699.5,664.4 L1701.8,663.2 L1704.0,661.9 L1706.2,660.6 L1708.5,659.2 L1710.8,657.9 L1713.0,656.5 L1715.2,655.1 L1717.5,653.6 L1719.8,652.2 L1722.0,650.8 L1724.2,649.3 L1726.5,647.9 L1728.8,646.4 L1731.0,645.0 L1733.2,643.6 L1735.5,642.1 L1737.8,640.7 L1740.0,639.3 L1742.2,637.9 L1744.5,636.5 L1746.8,635.1 L1749.0,633.6 L1751.2,632.2 L1753.5,630.8 L1755.8,629.4 L1758.0,627.9 L1760.2,626.5 L1762.5,625.1 L1764.8,623.6 L1767.0,622.1 L1769.2,620.7 L1771.5,619.2 L1773.8,617.7 L1776.0,616.2 L1778.2,614.7 L1780.5,613.1 L1782.8,611.6 L1785.0,610.0 L1787.2,608.4 L1789.5,606.8 L1791.8,605.2 L1794.0,603.5 L1796.2,601.9 L1798.2,600.3 L1800.2,598.8 L1802.2,597.3 L1804.2,595.7 L1806.2,594.1 L1808.2,592.5 L1810.2,590.9 L1812.2,589.2 L1814.2,587.6 L1816.2,585.9 L1818.2,584.1 L1820.2,582.4 L1822.2,580.6 L1824.2,578.8 L1826.2,577.0 L1828.2,575.1 L1830.2,573.2 L1832.2,571.3 L1834.2,569.3 L1836.2,567.3 L1838.2,565.3 L1840.0,563.5 L1841.8,561.7 L1843.5,559.9 L1845.2,558.0 L1847.0,556.1 L1848.8,554.2 L1850.5,552.2 L1852.2,550.2 L1854.0,548.2 L1855.8,546.2 L1857.5,544.1 L1859.2,542.0 L1861.0,539.9 L1862.8,537.7 L1864.5,535.5 L1866.2,533.3 L1868.0,531.0 L1869.8,528.7 L1871.5,526.4 L1873.0,524.4 L1874.5,522.3 L1876.0,520.2 L1877.5,518.1 L1879.0,516.0 L1880.5,513.9 L1882.0,511.7 L1883.5,509.5 L1885.0,507.3 L1886.5,505.1 L1888.0,502.8 L1889.5,500.6 L1891.0,498.3 L1892.5,496.0 L1894.0,493.7 L1895.5,491.3 L1897.0,489.0 L1898.5,486.6 L1900.0,484.3 L1901.5,481.9 L1903.0,479.5 L1904.5,477.1 L1906.0,474.7 L1907.5,472.2 L1909.0,469.8 L1910.5,467.4 L1912.0,464.9 L1913.5,462.5 L1915.0,460.0 L1916.5,457.6 L1918.0,455.1 L1919.5,452.6 L1921.0,450.2 L1922.5,447.7 L1924.0,445.2 L1925.5,442.8 L1927.0,440.3 L1928.5,437.9 L1930.0,435.4 L1931.5,432.9 L1933.0,430.5 L1934.5,428.0 L1936.0,425.6 L1937.5,423.2 L1939.0,420.8 L1940.5,418.3 L1942.0,415.9 L1943.5,413.5 L1945.0,411.2 L1946.5,408.8 L1948.0,406.4 L1949.5,404.1 L1951.0,401.7 L1952.5,399.4 L1954.0,397.1 L1955.5,394.8 L1957.0,392.6 L1958.5,390.3 L1960.0,388.1 L1961.5,385.9 L1963.0,383.7 L1964.5,381.5 L1966.0,379.3 L1967.5,377.2 L1969.0,375.1 L1970.5,373.0 L1972.0,371.0 L1973.5,368.9 L1975.0,366.9 L1976.8,364.6 L1978.5,362.4 L1980.2,360.2 L1982.0,358.0 L1983.8,355.8 L1985.5,353.8 L1987.2,351.7 L1989.0,349.7 L1990.8,347.8 L1992.5,345.9 L1994.2,344.1 L1996.2,342.1 L1998.2,340.1 L2000.2,338.3 L2002.2,336.5 L2004.2,334.8 L2006.2,333.2 L2008.2,331.7 L2010.5,330.2 L2012.8,328.7 L2015.0,327.4 L2017.2,326.2 L2019.8,325.1 L2022.2,324.1 L2024.8,323.3 L2027.2,322.6 L2029.8,322.2 L2032.2,322.0 L2034.8,321.9 L2037.2,322.1 L2039.8,322.5 L2042.2,323.1 L2044.8,323.9 L2047.2,325.0 L2049.5,326.1 L2051.8,327.5 L2054.0,329.0 L2056.0,330.5 L2058.0,332.2 L2060.0,334.1 L2062.0,336.1 L2063.8,338.1 L2065.5,340.1 L2067.2,342.3 L2069.0,344.6 L2070.5,346.7 L2072.0,348.9 L2073.5,351.2 L2075.0,353.6 L2076.5,356.1 L2077.8,358.3 L2079.0,360.6 L2080.2,362.9 L2081.5,365.3 L2082.8,367.8 L2084.0,370.4 L2085.2,373.0 L2086.5,375.7 L2087.8,378.5 L2089.0,381.4 L2090.0,383.7 L2091.0,386.1 L2092.0,388.6 L2093.0,391.0 L2094.0,393.6 L2095.0,396.1 L2096.0,398.7 L2097.0,401.4 L2098.0,404.0 L2099.0,406.7 L2100.0,409.5 L2101.0,412.2 L2102.0,415.0 L2103.0,417.8 L2104.0,420.7 L2105.0,423.6 L2106.0,426.5 L2107.0,429.4 L2108.0,432.3 L2109.0,435.3 L2110.0,438.3 L2111.0,441.3 L2112.0,444.3 L2113.0,447.3 L2114.0,450.3 L2115.0,453.4 L2116.0,456.4 L2117.0,459.5 L2118.0,462.6 L2119.0,465.6 L2120.0,468.7 L2121.0,471.8 L2122.0,474.9 L2123.0,478.0 L2124.0,481.1 L2125.0,484.1 L2126.0,487.2 L2127.0,490.3 L2128.0,493.4 L2129.0,496.4 L2130.0,499.5 L2131.0,502.6 L2132.0,505.6 L2133.0,508.6 L2134.0,511.7 L2135.0,514.7 L2136.0,517.7 L2137.0,520.7 L2138.0,523.7 L2139.0,526.6 L2140.0,529.6 L2141.0,532.5 L2142.0,535.4 L2143.0,538.3 L2144.0,541.2 L2145.0,544.1 L2146.0,546.9 L2147.0,549.7 L2148.0,552.5 L2149.0,555.3 L2150.0,558.1 L2151.0,560.8 L2152.0,563.5 L2153.0,566.2 L2154.0,568.8 L2155.0,571.4 L2156.0,574.0 L2157.0,576.6 L2158.0,579.1 L2159.0,581.6 L2160.0,584.1 L2161.0,586.5 L2162.0,588.9 L2163.0,591.3 L2164.0,593.6 L2165.2,596.5 L2166.5,599.2 L2167.8,602.0 L2169.0,604.6 L2170.2,607.3 L2171.5,609.8 L2172.8,612.3 L2174.0,614.7 L2175.2,617.1 L2176.5,619.4 L2177.8,621.6 L2179.0,623.8 L2180.5,626.4 L2182.0,628.9 L2183.5,631.3 L2185.0,633.6 L2186.5,635.9 L2188.0,638.1 L2189.5,640.2 L2191.0,642.3 L2192.8,644.6 L2194.5,646.8 L2196.2,648.9 L2198.0,651.0 L2199.8,653.0 L2201.5,654.9 L2203.2,656.7 L2205.2,658.7 L2207.2,660.6 L2209.2,662.4 L2211.2,664.1 L2213.2,665.8 L2215.2,667.3 L2217.5,669.0 L2219.8,670.6 L2222.0,672.1 L2224.2,673.6 L2226.5,674.9 L2228.8,676.2 L2231.0,677.5 L2233.2,678.7 L2235.5,679.8 L2238.0,680.9 L2240.5,682.0 L2243.0,683.0 L2245.5,683.9 L2248.0,684.8 L2250.5,685.5 L2253.0,686.1 L2255.5,686.7 L2258.0,687.2 L2260.5,687.5 L2263.0,687.8 L2265.5,688.0 L2268.0,688.0 L2270.5,688.0 L2273.0,687.9 L2275.5,687.6 L2278.0,687.3 L2280.5,686.8 L2283.0,686.2 L2285.5,685.5 L2288.0,684.7" stroke="#167014" stroke-linecap="round"/>
</g>
<line x1="1728.5" y1="90.3" x2="1841.5" y2="90.3" stroke="#167014" stroke-width="8.5" stroke-linecap="round"/>
<line x1="1728.5" y1="143.0" x2="1825.5" y2="143.0" stroke="#167014" stroke-width="8.5" stroke-linecap="round" stroke-dasharray="21 18"/>
<clipPath id="clipC"><rect x="245.5" y="1169.8" width="908.0" height="897.2"/></clipPath>
<rect x="248.5" y="1169.8" width="902.0" height="897.2" fill="#c0c0c0"/>
<line x1="248.5" y1="1169.8" x2="1150.5" y2="1169.8" stroke="#363636" stroke-width="6.5" stroke-linecap="square"/>
<line x1="248.5" y1="1169.8" x2="248.5" y2="2067.0" stroke="#505050" stroke-width="6.5" stroke-linecap="square"/>
<line x1="248.5" y1="2067.0" x2="1150.5" y2="2067.0" stroke="#505050" stroke-width="6.5" stroke-linecap="square"/>
<line x1="1150.5" y1="1169.8" x2="1150.5" y2="2067.0" stroke="#242424" stroke-width="6.5" stroke-linecap="square"/>
<line x1="476.8" y1="2067.0" x2="476.8" y2="2053.0" stroke="#111" stroke-width="5"/>
<line x1="1017.9" y1="2067.0" x2="1017.9" y2="2053.0" stroke="#111" stroke-width="5"/>
<line x1="248.5" y1="1243.5" x2="263.5" y2="1243.5" stroke="#111" stroke-width="5"/>
<line x1="248.5" y1="1993.0" x2="263.5" y2="1993.0" stroke="#111" stroke-width="5"/>
<g clip-path="url(#clipC)" fill="none" stroke-width="8.0" stroke-linejoin="round">
<path d="M247.0,1482.1 L247.8,1485.4 L248.5,1488.6 L249.2,1491.9 L250.0,1495.1 L250.8,1498.3 L251.5,1501.5 L252.2,1504.6 L253.0,1507.8 L253.8,1510.9 L254.5,1514.0 L255.2,1517.0 L256.0,1520.1 L256.8,1523.1 L257.5,1526.1 L258.2,1529.1 L259.0,1532.1 L259.8,1535.1 L260.5,1538.0 L261.2,1540.9 L262.0,1543.8 L262.8,1546.7 L263.5,1549.5 L264.2,1552.4 L265.0,1555.2 L265.8,1558.0 L266.5,1560.8 L267.2,1563.6 L268.0,1566.3 L268.8,1569.0 L269.5,1571.7 L270.2,1574.4 L271.0,1577.1 L271.8,1579.8 L272.5,1582.4 L273.2,1585.0 L274.0,1587.7 L274.8,1590.2 L275.5,1592.8 L276.2,1595.4 L277.0,1597.9 L277.8,1600.4 L278.5,1602.9 L279.2,1605.4 L280.0,1607.9 L280.8,1610.4 L281.5,1612.8 L282.2,1615.2 L283.0,1617.6 L283.8,1620.0 L284.8,1623.2 L285.8,1626.4 L286.8,1629.5 L287.8,1632.6 L288.8,1635.6 L289.8,1638.7 L290.8,1641.7 L291.8,1644.7 L292.8,1647.7 L293.8,1650.6 L294.8,1653.5 L295.8,1656.4 L296.8,1659.3 L297.8,1662.1 L298.8,1664.9 L299.8,1667.7 L300.8,1670.5 L301.8,1673.3 L302.8,1676.0 L303.8,1678.7 L304.8,1681.4 L305.8,1684.1 L306.8,1686.8 L307.8,1689.4 L308.8,1692.0 L309.8,1694.6 L310.8,1697.2 L311.8,1699.7 L312.8,1702.3 L313.8,1704.8 L314.8,1707.3 L315.8,1709.8 L316.8,1712.2 L317.8,1714.7 L318.8,1717.1 L319.8,1719.6 L320.8,1722.0 L321.8,1724.3 L322.8,1726.7 L323.8,1729.1 L324.8,1731.4 L325.8,1733.7 L326.8,1736.0 L327.8,1738.3 L329.0,1741.2 L330.2,1744.0 L331.5,1746.9 L332.8,1749.7 L334.0,1752.4 L335.2,1755.2 L336.5,1757.9 L337.8,1760.7 L339.0,1763.4 L340.2,1766.0 L341.5,1768.7 L342.8,1771.4 L344.0,1774.0 L345.2,1776.6 L346.5,1779.2 L347.8,1781.7 L349.0,1784.2 L350.2,1786.8 L351.5,1789.2 L352.8,1791.7 L354.0,1794.1 L355.2,1796.5 L356.5,1798.9 L357.8,1801.3 L359.0,1803.6 L360.2,1805.9 L361.5,1808.1 L362.8,1810.4 L364.0,1812.6 L365.2,1814.8 L366.8,1817.3 L368.2,1819.9 L369.8,1822.3 L371.2,1824.8 L372.8,1827.1 L374.2,1829.5 L375.8,1831.7 L377.2,1834.0 L378.8,1836.1 L380.2,1838.2 L381.8,1840.3 L383.2,1842.3 L385.0,1844.6 L386.8,1846.8 L388.5,1848.9 L390.2,1850.9 L392.0,1852.8 L393.8,1854.7 L395.8,1856.7 L397.8,1858.6 L399.8,1860.4 L401.8,1862.0 L403.8,1863.6 L406.0,1865.1 L408.2,1866.6 L410.5,1867.8 L412.8,1868.9 L415.2,1870.0 L417.8,1870.8 L420.2,1871.5 L422.8,1872.0 L425.2,1872.3 L427.8,1872.5 L430.2,1872.5 L432.8,1872.3 L435.2,1872.0 L437.8,1871.5 L440.2,1870.9 L442.8,1870.1 L445.2,1869.2 L447.8,1868.2 L450.2,1867.2 L452.8,1866.0 L455.2,1864.9 L457.8,1863.7 L460.2,1862.6 L462.8,1861.5 L465.2,1860.5 L467.8,1859.6 L470.2,1858.8 L472.8,1858.1 L475.2,1857.6 L477.8,1857.3 L480.2,1857.2 L482.8,1857.3 L485.2,1857.7 L487.8,1858.2 L490.2,1858.9 L492.8,1859.8 L495.2,1860.8 L497.8,1861.9 L500.2,1863.1 L502.8,1864.3 L505.0,1865.4 L507.2,1866.5 L509.8,1867.7 L512.2,1868.9 L514.8,1870.1 L517.2,1871.2 L519.8,1872.3 L522.2,1873.3 L524.8,1874.3 L527.2,1875.2 L529.8,1876.1 L532.2,1876.9 L534.8,1877.7 L537.2,1878.3 L539.8,1878.9 L542.2,1879.4 L544.8,1879.8 L547.2,1880.1 L549.8,1880.3 L552.2,1880.4 L554.8,1880.3 L557.2,1880.2 L559.8,1879.9 L562.2,1879.5 L564.8,1878.9 L567.2,1878.3 L569.8,1877.5 L572.2,1876.6 L574.8,1875.7 L577.2,1874.7 L579.8,1873.7 L582.2,1872.7 L584.8,1871.6 L587.2,1870.6 L589.8,1869.6 L592.2,1868.6 L594.8,1867.7 L597.2,1866.9 L599.8,1866.1 L602.2,1865.4 L604.8,1864.8 L607.2,1864.2 L609.8,1863.7 L612.2,1863.2 L614.8,1862.7 L617.2,1862.3 L619.8,1861.9 L622.2,1861.5 L624.8,1861.2 L627.2,1860.8 L629.8,1860.5 L632.2,1860.1 L634.8,1859.8 L637.2,1859.4 L639.8,1859.0 L642.2,1858.6 L644.8,1858.1 L647.2,1857.7 L649.8,1857.1 L652.2,1856.6 L654.8,1856.0 L657.2,1855.3 L659.8,1854.5 L662.2,1853.7 L664.8,1852.8 L667.2,1851.9 L669.8,1850.8 L672.2,1849.7 L674.5,1848.6 L676.8,1847.4 L679.0,1846.1 L681.2,1844.7 L683.5,1843.2 L685.8,1841.7 L688.0,1840.0 L690.0,1838.4 L692.0,1836.8 L694.0,1835.0 L696.0,1833.2 L698.0,1831.3 L700.0,1829.3 L702.0,1827.3 L703.8,1825.5 L705.5,1823.6 L707.2,1821.7 L709.0,1819.7 L710.8,1817.7 L712.5,1815.7 L714.2,1813.7 L716.0,1811.6 L717.8,1809.5 L719.5,1807.4 L721.2,1805.2 L723.0,1803.1 L724.8,1800.9 L726.5,1798.7 L728.2,1796.6 L730.0,1794.4 L731.8,1792.2 L733.5,1790.0 L735.2,1787.8 L737.0,1785.6 L738.8,1783.5 L740.5,1781.3 L742.2,1779.1 L744.0,1777.0 L745.8,1774.8 L747.5,1772.7 L749.2,1770.5 L751.0,1768.4 L752.8,1766.3 L754.5,1764.2 L756.2,1762.1 L758.0,1760.0 L759.8,1757.9 L761.5,1755.9 L763.2,1753.8 L765.0,1751.8 L766.8,1749.8 L768.5,1747.8 L770.2,1745.8 L772.0,1743.8 L773.8,1741.9 L775.5,1739.9 L777.2,1738.0 L779.0,1736.1 L780.8,1734.3 L782.5,1732.4 L784.2,1730.6 L786.0,1728.8 L788.0,1726.7 L790.0,1724.7 L792.0,1722.8 L794.0,1720.8 L796.0,1718.9 L798.0,1717.0 L800.0,1715.2 L802.0,1713.4 L804.0,1711.6 L806.0,1709.9 L808.0,1708.2 L810.0,1706.6 L812.0,1705.0 L814.0,1703.5 L816.0,1702.0 L818.2,1700.3 L820.5,1698.7 L822.8,1697.2 L825.0,1695.7 L827.2,1694.3 L829.5,1693.0 L831.8,1691.7 L834.0,1690.5 L836.2,1689.4 L838.8,1688.2 L841.2,1687.1 L843.8,1686.1 L846.2,1685.2 L848.8,1684.4 L851.2,1683.7 L853.8,1683.1 L856.2,1682.6 L858.8,1682.2 L861.2,1681.9 L863.8,1681.7 L866.2,1681.6 L868.8,1681.6 L871.2,1681.7 L873.8,1682.0 L876.2,1682.3 L878.8,1682.8 L881.2,1683.4 L883.8,1684.1 L886.2,1684.9 L888.8,1685.9 L891.2,1686.9 L893.8,1688.1 L896.0,1689.2 L898.2,1690.4 L900.5,1691.7 L902.8,1693.1 L905.0,1694.5 L907.2,1696.1 L909.5,1697.7 L911.5,1699.2 L913.5,1700.8 L915.5,1702.4 L917.5,1704.1 L919.5,1705.8 L921.5,1707.6 L923.5,1709.5 L925.5,1711.4 L927.5,1713.3 L929.5,1715.3 L931.2,1717.1 L933.0,1719.0 L934.8,1720.9 L936.5,1722.8 L938.2,1724.8 L940.0,1726.8 L941.8,1728.8 L943.5,1730.9 L945.2,1733.0 L947.0,1735.1 L948.8,1737.3 L950.5,1739.5 L952.2,1741.7 L954.0,1744.0 L955.8,1746.3 L957.5,1748.6 L959.2,1750.9 L961.0,1753.2 L962.8,1755.5 L964.5,1757.8 L966.2,1760.2 L968.0,1762.5 L969.8,1764.8 L971.5,1767.1 L973.2,1769.3 L975.0,1771.6 L976.8,1773.8 L978.5,1776.0 L980.2,1778.2 L982.0,1780.3 L983.8,1782.4 L985.5,1784.5 L987.2,1786.5 L989.0,1788.5 L990.8,1790.4 L992.5,1792.2 L994.5,1794.2 L996.5,1796.2 L998.5,1798.0 L1000.5,1799.8 L1002.5,1801.5 L1004.5,1803.1 L1006.8,1804.8 L1009.0,1806.3 L1011.2,1807.8 L1013.5,1809.1 L1015.8,1810.3 L1018.0,1811.4 L1020.5,1812.5 L1023.0,1813.4 L1025.5,1814.2 L1028.0,1814.9 L1030.5,1815.4 L1033.0,1815.7 L1035.5,1815.9 L1038.0,1816.0 L1040.5,1815.9 L1043.0,1815.7 L1045.5,1815.3 L1048.0,1814.8 L1050.5,1814.1 L1053.0,1813.3 L1055.5,1812.4 L1058.0,1811.3 L1060.2,1810.1 L1062.5,1808.9 L1064.8,1807.5 L1067.0,1806.0 L1069.2,1804.4 L1071.2,1802.9 L1073.2,1801.3 L1075.2,1799.5 L1077.2,1797.7 L1079.2,1795.8 L1081.2,1793.8 L1083.0,1791.9 L1084.8,1790.0 L1086.5,1788.0 L1088.2,1786.0 L1090.0,1783.9 L1091.8,1781.7 L1093.5,1779.5 L1095.2,1777.2 L1096.8,1775.2 L1098.2,1773.1 L1099.8,1771.0 L1101.2,1768.9 L1102.8,1766.7 L1104.2,1764.5 L1105.8,1762.3 L1107.2,1760.0 L1108.8,1757.7 L1110.2,1755.3 L1111.8,1753.0 L1113.2,1750.6 L1114.8,1748.2 L1116.2,1745.7 L1117.8,1743.2 L1119.2,1740.7 L1120.8,1738.2 L1122.2,1735.7 L1123.8,1733.1 L1125.0,1730.9 L1126.2,1728.7 L1127.5,1726.5 L1128.8,1724.3 L1130.0,1722.0 L1131.2,1719.6 L1132.5,1717.3 L1133.8,1714.8 L1135.0,1712.4 L1136.2,1709.8 L1137.5,1707.3 L1138.8,1704.6 L1140.0,1701.9 L1141.2,1699.2 L1142.5,1696.4 L1143.5,1694.1 L1144.5,1691.7 L1145.5,1689.3 L1146.5,1686.8 L1147.5,1684.3 L1148.5,1681.8 L1149.5,1679.2 L1150.5,1676.5 L1151.5,1673.8 L1152.0,1672.4" stroke="#1008d2" stroke-dasharray="26 16" stroke-linecap="round"/>
<path d="M247.0,1593.6 L247.5,1596.3 L248.0,1599.0 L248.5,1601.6 L249.0,1604.1 L249.5,1606.6 L250.2,1610.2 L251.0,1613.6 L251.8,1616.9 L252.5,1620.0 L253.2,1623.0 L254.0,1625.9 L254.8,1628.7 L255.5,1631.3 L256.2,1633.9 L257.0,1636.3 L258.0,1639.4 L259.0,1642.4 L260.0,1645.2 L261.0,1647.8 L262.0,1650.4 L263.0,1652.8 L264.0,1655.1 L265.2,1657.9 L266.5,1660.5 L267.8,1663.1 L269.0,1665.6 L270.2,1668.0 L271.5,1670.4 L272.8,1672.8 L274.0,1675.1 L275.2,1677.3 L276.5,1679.5 L278.0,1682.1 L279.5,1684.6 L281.0,1687.1 L282.5,1689.5 L284.0,1691.9 L285.5,1694.2 L287.0,1696.5 L288.5,1698.8 L290.0,1701.0 L291.5,1703.2 L293.0,1705.3 L294.5,1707.5 L296.0,1709.6 L297.5,1711.6 L299.0,1713.6 L300.5,1715.7 L302.2,1718.0 L304.0,1720.2 L305.8,1722.5 L307.5,1724.7 L309.2,1726.8 L311.0,1729.0 L312.8,1731.1 L314.5,1733.2 L316.2,1735.3 L318.0,1737.3 L319.8,1739.4 L321.5,1741.4 L323.2,1743.4 L325.0,1745.4 L326.8,1747.4 L328.5,1749.3 L330.2,1751.3 L332.0,1753.3 L333.8,1755.2 L335.5,1757.1 L337.2,1759.1 L339.0,1761.0 L340.8,1763.0 L342.5,1764.9 L344.2,1766.9 L346.0,1768.8 L347.8,1770.8 L349.5,1772.8 L351.2,1774.8 L353.0,1776.8 L354.8,1778.8 L356.5,1780.8 L358.2,1782.9 L360.0,1784.9 L361.8,1787.0 L363.5,1789.1 L365.2,1791.2 L367.0,1793.4 L368.8,1795.5 L370.5,1797.6 L372.2,1799.7 L374.0,1801.8 L375.8,1803.9 L377.5,1805.9 L379.2,1808.0 L381.0,1810.0 L382.8,1812.0 L384.5,1813.9 L386.2,1815.8 L388.0,1817.7 L389.8,1819.5 L391.8,1821.5 L393.8,1823.5 L395.8,1825.3 L397.8,1827.1 L399.8,1828.8 L401.8,1830.4 L404.0,1832.1 L406.2,1833.6 L408.5,1835.0 L410.8,1836.3 L413.2,1837.4 L415.8,1838.4 L418.2,1839.1 L420.8,1839.7 L423.2,1839.9 L425.8,1839.9 L428.2,1839.7 L430.8,1839.2 L433.2,1838.5 L435.8,1837.7 L438.2,1836.7 L440.8,1835.5 L443.0,1834.3 L445.2,1833.1 L447.5,1831.8 L449.8,1830.4 L452.0,1829.1 L454.2,1827.6 L456.5,1826.2 L458.8,1824.8 L461.0,1823.4 L463.2,1822.1 L465.5,1820.8 L467.8,1819.6 L470.0,1818.4 L472.5,1817.2 L475.0,1816.1 L477.5,1815.1 L480.0,1814.3 L482.5,1813.5 L485.0,1812.9 L487.5,1812.4 L490.0,1812.1 L492.5,1811.9 L495.0,1811.9 L497.5,1812.1 L500.0,1812.4 L502.5,1813.0 L505.0,1813.7 L507.5,1814.6 L510.0,1815.8 L512.2,1817.0 L514.5,1818.3 L516.8,1819.6 L519.0,1820.9 L521.2,1822.2 L523.5,1823.4 L526.0,1824.6 L528.5,1825.5 L531.0,1826.2 L533.5,1826.5 L536.0,1826.5 L538.5,1826.1 L541.0,1825.4 L543.5,1824.4 L546.0,1823.2 L548.2,1821.9 L550.5,1820.5 L552.8,1819.0 L555.0,1817.3 L557.0,1815.8 L559.0,1814.2 L561.0,1812.6 L563.0,1811.0 L565.0,1809.4 L567.0,1807.9 L569.0,1806.3 L571.2,1804.7 L573.5,1803.2 L575.8,1801.8 L578.0,1800.5 L580.2,1799.4 L582.8,1798.3 L585.2,1797.4 L587.8,1796.7 L590.2,1796.1 L592.8,1795.6 L595.2,1795.3 L597.8,1795.1 L600.2,1795.0 L602.8,1795.0 L605.2,1795.2 L607.8,1795.4 L610.2,1795.7 L612.8,1796.1 L615.2,1796.5 L617.8,1797.0 L620.2,1797.6 L622.8,1798.2 L625.2,1798.8 L627.8,1799.5 L630.2,1800.2 L632.8,1800.9 L635.2,1801.6 L637.8,1802.3 L640.2,1803.0 L642.8,1803.7 L645.2,1804.4 L647.8,1805.0 L650.2,1805.6 L652.8,1806.1 L655.2,1806.6 L657.8,1807.0 L660.2,1807.3 L662.8,1807.6 L665.2,1807.8 L667.8,1807.9 L670.2,1807.9 L672.8,1807.8 L675.2,1807.7 L677.8,1807.4 L680.2,1807.1 L682.8,1806.6 L685.2,1806.1 L687.8,1805.5 L690.2,1804.7 L692.8,1803.9 L695.2,1802.9 L697.8,1801.8 L700.2,1800.6 L702.5,1799.4 L704.8,1798.1 L707.0,1796.7 L709.2,1795.3 L711.5,1793.7 L713.8,1792.1 L715.8,1790.6 L717.8,1789.0 L719.8,1787.4 L721.8,1785.8 L723.8,1784.1 L725.8,1782.4 L727.8,1780.6 L729.8,1778.8 L731.8,1776.9 L733.8,1775.1 L735.8,1773.2 L737.8,1771.3 L739.8,1769.3 L741.8,1767.4 L743.8,1765.4 L745.8,1763.5 L747.8,1761.5 L749.8,1759.5 L751.8,1757.6 L753.8,1755.6 L755.8,1753.7 L757.8,1751.7 L759.8,1749.8 L761.8,1747.9 L763.8,1746.0 L765.8,1744.2 L767.8,1742.3 L769.8,1740.5 L771.8,1738.7 L773.8,1736.9 L775.8,1735.1 L777.8,1733.3 L779.8,1731.6 L781.8,1729.8 L783.8,1728.1 L785.8,1726.4 L787.8,1724.7 L789.8,1723.0 L791.8,1721.3 L793.8,1719.7 L795.8,1718.0 L797.8,1716.4 L799.8,1714.7 L801.8,1713.1 L803.8,1711.5 L805.8,1709.8 L807.8,1708.2 L809.8,1706.6 L811.8,1705.0 L813.8,1703.4 L815.8,1701.9 L817.8,1700.3 L819.8,1698.8 L822.0,1697.1 L824.2,1695.5 L826.5,1694.0 L828.8,1692.5 L831.0,1691.1 L833.2,1689.7 L835.5,1688.5 L837.8,1687.3 L840.2,1686.2 L842.8,1685.1 L845.2,1684.1 L847.8,1683.3 L850.2,1682.6 L852.8,1681.9 L855.2,1681.4 L857.8,1681.0 L860.2,1680.7 L862.8,1680.5 L865.2,1680.4 L867.8,1680.5 L870.2,1680.6 L872.8,1680.8 L875.2,1681.2 L877.8,1681.6 L880.2,1682.2 L882.8,1682.8 L885.2,1683.6 L887.8,1684.4 L890.2,1685.4 L892.8,1686.4 L895.2,1687.6 L897.5,1688.8 L899.8,1690.0 L902.0,1691.3 L904.2,1692.6 L906.5,1694.1 L908.8,1695.6 L911.0,1697.3 L913.0,1698.8 L915.0,1700.3 L917.0,1702.0 L919.0,1703.7 L921.0,1705.4 L923.0,1707.2 L925.0,1709.1 L927.0,1711.0 L929.0,1713.0 L930.8,1714.8 L932.5,1716.7 L934.2,1718.6 L936.0,1720.5 L937.8,1722.5 L939.5,1724.5 L941.2,1726.6 L943.0,1728.7 L944.8,1730.8 L946.5,1733.0 L948.2,1735.3 L950.0,1737.6 L951.8,1739.9 L953.2,1741.9 L954.8,1744.0 L956.2,1746.0 L957.8,1748.1 L959.2,1750.2 L960.8,1752.3 L962.2,1754.4 L963.8,1756.5 L965.2,1758.6 L966.8,1760.7 L968.2,1762.9 L969.8,1765.0 L971.2,1767.0 L972.8,1769.1 L974.2,1771.2 L975.8,1773.2 L977.2,1775.3 L978.8,1777.3 L980.5,1779.6 L982.2,1781.8 L984.0,1784.0 L985.8,1786.2 L987.5,1788.3 L989.2,1790.4 L991.0,1792.4 L992.8,1794.3 L994.5,1796.2 L996.5,1798.2 L998.5,1800.1 L1000.5,1801.9 L1002.5,1803.7 L1004.5,1805.4 L1006.5,1806.9 L1008.5,1808.5 L1010.8,1810.1 L1013.0,1811.7 L1015.2,1813.2 L1017.5,1814.7 L1019.8,1816.1 L1022.0,1817.5 L1024.2,1818.7 L1026.5,1819.9 L1028.8,1821.0 L1031.2,1822.1 L1033.8,1823.2 L1036.2,1824.0 L1038.8,1824.8 L1041.2,1825.4 L1043.8,1825.8 L1046.2,1826.1 L1048.8,1826.3 L1051.2,1826.3 L1053.8,1826.1 L1056.2,1825.7 L1058.8,1825.3 L1061.2,1824.6 L1063.8,1823.8 L1066.2,1822.9 L1068.8,1821.9 L1071.2,1820.6 L1073.5,1819.4 L1075.8,1818.1 L1078.0,1816.7 L1080.2,1815.2 L1082.5,1813.6 L1084.5,1812.0 L1086.5,1810.4 L1088.5,1808.7 L1090.5,1806.9 L1092.5,1805.1 L1094.5,1803.2 L1096.5,1801.2 L1098.2,1799.4 L1100.0,1797.5 L1101.8,1795.6 L1103.5,1793.6 L1105.2,1791.6 L1107.0,1789.6 L1108.8,1787.4 L1110.5,1785.3 L1112.2,1783.1 L1114.0,1780.8 L1115.8,1778.5 L1117.2,1776.5 L1118.8,1774.4 L1120.2,1772.4 L1121.8,1770.2 L1123.2,1768.1 L1124.8,1765.9 L1126.2,1763.7 L1127.8,1761.5 L1129.2,1759.2 L1130.8,1756.9 L1132.2,1754.6 L1133.8,1752.3 L1135.2,1749.9 L1136.8,1747.5 L1138.2,1745.1 L1139.8,1742.6 L1141.2,1740.1 L1142.8,1737.6 L1144.2,1735.1 L1145.8,1732.5 L1147.2,1730.0 L1148.8,1727.4 L1150.0,1725.2 L1151.2,1723.0 L1152.0,1721.7" stroke="#1008d2" stroke-linecap="round"/>
</g>
<line x1="689.5" y1="1245.3" x2="804.9" y2="1245.3" stroke="#1008d2" stroke-width="8.5" stroke-linecap="round"/>
<line x1="689.5" y1="1297.8" x2="790.5" y2="1297.8" stroke="#1008d2" stroke-width="8.5" stroke-linecap="round" stroke-dasharray="21 18"/>
<clipPath id="clipD"><rect x="1380.5" y="1170.0" width="910.5" height="898.0"/></clipPath>
<rect x="1383.5" y="1170.0" width="904.5" height="898.0" fill="#c0c0c0"/>
<line x1="1383.5" y1="1170.0" x2="2288.0" y2="1170.0" stroke="#363636" stroke-width="6.5" stroke-linecap="square"/>
<line x1="1383.5" y1="1170.0" x2="1383.5" y2="2068.0" stroke="#464646" stroke-width="6.5" stroke-linecap="square"/>
<line x1="1383.5" y1="2068.0" x2="2288.0" y2="2068.0" stroke="#505050" stroke-width="6.5" stroke-linecap="square"/>
<line x1="2288.0" y1="1170.0" x2="2288.0" y2="2068.0" stroke="#3c3c3c" stroke-width="6.5" stroke-linecap="square"/>
<line x1="1612.4" y1="2068.0" x2="1612.4" y2="2054.0" stroke="#111" stroke-width="5"/>
<line x1="2152.8" y1="2068.0" x2="2152.8" y2="2054.0" stroke="#111" stroke-width="5"/>
<line x1="1383.5" y1="1392.7" x2="1398.5" y2="1392.7" stroke="#111" stroke-width="5"/>
<line x1="1383.5" y1="1843.8" x2="1398.5" y2="1843.8" stroke="#111" stroke-width="5"/>
<g clip-path="url(#clipD)" fill="none" stroke-width="8.0" stroke-linejoin="round">
<path d="M1386.0,1475.8 L1387.0,1478.7 L1388.0,1481.4 L1389.0,1484.1 L1390.0,1486.6 L1391.0,1489.0 L1392.2,1491.8 L1393.5,1494.5 L1394.8,1497.0 L1396.0,1499.3 L1397.5,1501.8 L1399.0,1504.1 L1400.5,1506.1 L1402.2,1508.2 L1404.2,1510.1 L1406.2,1511.7 L1408.5,1512.9 L1411.0,1513.7 L1413.5,1513.8 L1416.0,1513.4 L1418.5,1512.4 L1420.8,1511.0 L1422.8,1509.3 L1424.8,1507.3 L1426.5,1505.3 L1428.2,1503.0 L1429.8,1500.9 L1431.2,1498.6 L1432.8,1496.1 L1434.0,1493.9 L1435.2,1491.5 L1436.5,1489.1 L1437.8,1486.5 L1439.0,1483.8 L1440.2,1481.1 L1441.5,1478.2 L1442.5,1475.9 L1443.5,1473.5 L1444.5,1471.0 L1445.5,1468.5 L1446.5,1466.0 L1447.5,1463.3 L1448.5,1460.7 L1449.5,1458.0 L1450.5,1455.3 L1451.5,1452.5 L1452.5,1449.7 L1453.5,1446.9 L1454.5,1444.0 L1455.5,1441.1 L1456.5,1438.2 L1457.5,1435.3 L1458.5,1432.3 L1459.5,1429.3 L1460.5,1426.3 L1461.5,1423.3 L1462.5,1420.3 L1463.5,1417.2 L1464.5,1414.2 L1465.5,1411.2 L1466.5,1408.2 L1467.5,1405.3 L1468.5,1402.5 L1469.5,1399.7 L1470.5,1397.0 L1471.5,1394.3 L1472.5,1391.8 L1473.5,1389.4 L1474.8,1386.6 L1476.0,1384.0 L1477.2,1381.6 L1478.8,1379.1 L1480.2,1377.0 L1482.0,1374.9 L1484.0,1373.1 L1486.2,1371.9 L1488.8,1371.4 L1491.2,1371.9 L1493.5,1373.2 L1495.5,1374.9 L1497.2,1377.0 L1498.8,1379.1 L1500.2,1381.6 L1501.5,1383.9 L1502.8,1386.5 L1504.0,1389.3 L1505.0,1391.7 L1506.0,1394.2 L1507.0,1397.0 L1508.0,1399.8 L1509.0,1402.8 L1510.0,1406.0 L1510.8,1408.5 L1511.5,1411.0 L1512.2,1413.6 L1513.0,1416.4 L1513.8,1419.2 L1514.5,1422.0 L1515.2,1425.0 L1516.0,1428.1 L1516.8,1431.2 L1517.5,1434.4 L1518.2,1437.7 L1519.0,1441.1 L1519.8,1444.6 L1520.5,1448.1 L1521.2,1451.8 L1521.8,1454.2 L1522.2,1456.8 L1522.8,1459.3 L1523.2,1461.9 L1523.8,1464.5 L1524.2,1467.1 L1524.8,1469.8 L1525.2,1472.5 L1525.8,1475.2 L1526.2,1477.9 L1526.8,1480.7 L1527.2,1483.5 L1527.8,1486.3 L1528.2,1489.2 L1528.8,1492.0 L1529.2,1494.9 L1529.8,1497.8 L1530.2,1500.7 L1530.8,1503.7 L1531.2,1506.6 L1531.8,1509.6 L1532.2,1512.6 L1532.8,1515.6 L1533.2,1518.6 L1533.8,1521.6 L1534.2,1524.7 L1534.8,1527.7 L1535.2,1530.8 L1535.8,1533.8 L1536.2,1536.9 L1536.8,1539.9 L1537.2,1543.0 L1537.8,1546.1 L1538.2,1549.1 L1538.8,1552.2 L1539.2,1555.3 L1539.8,1558.3 L1540.2,1561.4 L1540.8,1564.4 L1541.2,1567.5 L1541.8,1570.5 L1542.2,1573.5 L1542.8,1576.5 L1543.2,1579.5 L1543.8,1582.5 L1544.2,1585.4 L1544.8,1588.3 L1545.2,1591.2 L1545.8,1594.1 L1546.2,1596.9 L1546.8,1599.8 L1547.2,1602.6 L1547.8,1605.3 L1548.2,1608.0 L1548.8,1610.7 L1549.2,1613.4 L1549.8,1616.0 L1550.2,1618.6 L1550.8,1621.1 L1551.2,1623.6 L1551.8,1626.1 L1552.5,1629.7 L1553.2,1633.2 L1554.0,1636.5 L1554.8,1639.8 L1555.5,1642.9 L1556.2,1645.9 L1557.0,1648.8 L1557.8,1651.6 L1558.5,1654.3 L1559.2,1656.9 L1560.0,1659.4 L1560.8,1661.9 L1561.8,1664.9 L1562.8,1667.9 L1563.8,1670.7 L1564.8,1673.3 L1565.8,1675.8 L1566.8,1678.3 L1567.8,1680.6 L1569.0,1683.3 L1570.2,1685.9 L1571.5,1688.4 L1572.8,1690.8 L1574.0,1693.1 L1575.2,1695.3 L1576.8,1697.9 L1578.2,1700.4 L1579.8,1702.8 L1581.2,1705.3 L1582.8,1707.6 L1584.2,1710.0 L1585.8,1712.2 L1587.2,1714.5 L1588.8,1716.6 L1590.2,1718.8 L1591.8,1720.9 L1593.2,1722.9 L1595.0,1725.2 L1596.8,1727.4 L1598.5,1729.6 L1600.2,1731.8 L1602.0,1733.8 L1603.8,1735.9 L1605.5,1737.9 L1607.2,1739.9 L1609.0,1741.9 L1610.8,1743.8 L1612.5,1745.8 L1614.2,1747.7 L1616.0,1749.7 L1617.8,1751.6 L1619.5,1753.6 L1621.2,1755.5 L1623.0,1757.5 L1624.8,1759.4 L1626.5,1761.4 L1628.2,1763.3 L1630.0,1765.2 L1631.8,1767.2 L1633.5,1769.0 L1635.2,1770.9 L1637.0,1772.8 L1638.8,1774.6 L1640.5,1776.4 L1642.5,1778.4 L1644.5,1780.3 L1646.5,1782.3 L1648.5,1784.1 L1650.5,1785.9 L1652.5,1787.7 L1654.5,1789.4 L1656.5,1791.0 L1658.5,1792.5 L1660.8,1794.2 L1663.0,1795.7 L1665.2,1797.1 L1667.5,1798.5 L1669.8,1799.7 L1672.2,1800.9 L1674.8,1801.9 L1677.2,1802.8 L1679.8,1803.4 L1682.2,1803.9 L1684.8,1804.3 L1687.2,1804.4 L1689.8,1804.4 L1692.2,1804.3 L1694.8,1804.1 L1697.2,1803.8 L1699.8,1803.3 L1702.2,1802.9 L1704.8,1802.3 L1707.2,1801.8 L1709.8,1801.2 L1712.2,1800.7 L1714.8,1800.1 L1717.2,1799.6 L1719.8,1799.1 L1722.2,1798.7 L1724.8,1798.4 L1727.2,1798.2 L1729.8,1798.1 L1732.2,1798.1 L1734.8,1798.1 L1737.2,1798.3 L1739.8,1798.4 L1742.2,1798.6 L1744.8,1798.8 L1747.2,1799.1 L1749.8,1799.3 L1752.2,1799.6 L1754.8,1799.8 L1757.2,1800.0 L1759.8,1800.2 L1762.2,1800.3 L1764.8,1800.4 L1767.2,1800.4 L1769.8,1800.4 L1772.2,1800.4 L1774.8,1800.3 L1777.2,1800.1 L1779.8,1799.9 L1782.2,1799.7 L1784.8,1799.4 L1787.2,1799.0 L1789.8,1798.6 L1792.2,1798.2 L1794.8,1797.8 L1797.2,1797.2 L1799.8,1796.7 L1802.2,1796.1 L1804.8,1795.4 L1807.2,1794.7 L1809.8,1794.0 L1812.2,1793.2 L1814.8,1792.4 L1817.2,1791.6 L1819.8,1790.7 L1822.2,1789.7 L1824.8,1788.7 L1827.2,1787.7 L1829.8,1786.7 L1832.2,1785.6 L1834.8,1784.4 L1837.2,1783.2 L1839.8,1782.0 L1842.0,1780.9 L1844.2,1779.8 L1846.5,1778.6 L1848.8,1777.4 L1851.0,1776.2 L1853.2,1775.0 L1855.5,1773.7 L1857.8,1772.4 L1860.0,1771.1 L1862.2,1769.8 L1864.5,1768.5 L1866.8,1767.2 L1869.0,1765.8 L1871.2,1764.5 L1873.5,1763.1 L1875.8,1761.7 L1878.0,1760.3 L1880.2,1758.9 L1882.5,1757.5 L1884.8,1756.1 L1887.0,1754.7 L1889.2,1753.3 L1891.5,1751.9 L1893.8,1750.5 L1896.0,1749.1 L1898.2,1747.7 L1900.5,1746.3 L1902.8,1744.9 L1905.0,1743.5 L1907.2,1742.1 L1909.5,1740.8 L1911.8,1739.4 L1914.0,1738.1 L1916.2,1736.7 L1918.5,1735.4 L1920.8,1734.1 L1923.0,1732.8 L1925.2,1731.6 L1927.5,1730.3 L1929.8,1729.1 L1932.0,1727.9 L1934.2,1726.7 L1936.5,1725.5 L1938.8,1724.4 L1941.0,1723.3 L1943.5,1722.1 L1946.0,1720.9 L1948.5,1719.8 L1951.0,1718.7 L1953.5,1717.6 L1956.0,1716.6 L1958.5,1715.7 L1961.0,1714.7 L1963.5,1713.9 L1966.0,1713.1 L1968.5,1712.3 L1971.0,1711.6 L1973.5,1710.9 L1976.0,1710.3 L1978.5,1709.7 L1981.0,1709.2 L1983.5,1708.8 L1986.0,1708.4 L1988.5,1708.1 L1991.0,1707.8 L1993.5,1707.6 L1996.0,1707.5 L1998.5,1707.4 L2001.0,1707.3 L2003.5,1707.4 L2006.0,1707.4 L2008.5,1707.6 L2011.0,1707.8 L2013.5,1708.0 L2016.0,1708.3 L2018.5,1708.7 L2021.0,1709.1 L2023.5,1709.6 L2026.0,1710.1 L2028.5,1710.7 L2031.0,1711.3 L2033.5,1712.0 L2036.0,1712.8 L2038.5,1713.6 L2041.0,1714.4 L2043.5,1715.4 L2046.0,1716.3 L2048.5,1717.4 L2051.0,1718.5 L2053.5,1719.6 L2056.0,1720.8 L2058.2,1721.9 L2060.5,1723.1 L2062.8,1724.3 L2065.0,1725.6 L2067.2,1726.9 L2069.5,1728.2 L2071.8,1729.6 L2074.0,1731.1 L2076.2,1732.6 L2078.5,1734.1 L2080.8,1735.7 L2083.0,1737.3 L2085.2,1738.9 L2087.2,1740.5 L2089.2,1742.0 L2091.2,1743.6 L2093.2,1745.2 L2095.2,1746.8 L2097.2,1748.4 L2099.2,1750.1 L2101.2,1751.7 L2103.2,1753.4 L2105.2,1755.0 L2107.2,1756.7 L2109.2,1758.3 L2111.2,1760.0 L2113.2,1761.6 L2115.2,1763.1 L2117.2,1764.7 L2119.2,1766.2 L2121.5,1767.9 L2123.8,1769.5 L2126.0,1771.1 L2128.2,1772.6 L2130.5,1774.0 L2132.8,1775.4 L2135.0,1776.7 L2137.2,1777.9 L2139.5,1779.0 L2142.0,1780.1 L2144.5,1781.0 L2147.0,1781.9 L2149.5,1782.6 L2152.0,1783.3 L2154.5,1783.8 L2157.0,1784.2 L2159.5,1784.5 L2162.0,1784.7 L2164.5,1784.7 L2167.0,1784.7 L2169.5,1784.7 L2172.0,1784.5 L2174.5,1784.2 L2177.0,1783.9 L2179.5,1783.4 L2182.0,1782.9 L2184.5,1782.4 L2187.0,1781.7 L2189.5,1781.0 L2192.0,1780.3 L2194.5,1779.4 L2197.0,1778.5 L2199.5,1777.6 L2202.0,1776.6 L2204.5,1775.6 L2207.0,1774.5 L2209.5,1773.3 L2211.8,1772.1 L2214.0,1770.9 L2216.2,1769.7 L2218.5,1768.4 L2220.8,1767.0 L2223.0,1765.5 L2225.2,1764.0 L2227.5,1762.4 L2229.8,1760.7 L2231.8,1759.1 L2233.8,1757.5 L2235.8,1755.8 L2237.8,1754.0 L2239.8,1752.2 L2241.8,1750.3 L2243.8,1748.3 L2245.5,1746.5 L2247.2,1744.6 L2249.0,1742.7 L2250.8,1740.7 L2252.5,1738.7 L2254.2,1736.5 L2256.0,1734.4 L2257.8,1732.1 L2259.5,1729.8 L2261.0,1727.8 L2262.5,1725.7 L2264.0,1723.6 L2265.5,1721.5 L2267.0,1719.5 L2268.5,1717.4 L2270.2,1715.1 L2272.0,1712.9 L2273.8,1710.9 L2275.5,1709.0 L2277.5,1707.1 L2279.5,1705.4 L2281.8,1704.0 L2284.2,1702.9 L2286.8,1702.6 L2287.0,1702.6" stroke="#167014" stroke-dasharray="26 16" stroke-linecap="round"/>
<path d="M1386.0,1566.3 L1387.2,1568.8 L1388.5,1571.2 L1390.0,1573.6 L1391.5,1575.8 L1393.2,1578.0 L1395.2,1579.9 L1397.5,1581.5 L1400.0,1582.6 L1402.5,1582.9 L1405.0,1582.6 L1407.5,1581.6 L1409.8,1580.2 L1411.8,1578.6 L1413.8,1576.6 L1415.5,1574.6 L1417.2,1572.4 L1418.8,1570.4 L1420.2,1568.1 L1421.8,1565.8 L1423.2,1563.2 L1424.5,1560.9 L1425.8,1558.5 L1427.0,1555.9 L1428.2,1553.2 L1429.2,1550.9 L1430.2,1548.4 L1431.2,1545.9 L1432.2,1543.3 L1433.2,1540.5 L1434.2,1537.6 L1435.2,1534.7 L1436.2,1531.6 L1437.0,1529.2 L1437.8,1526.7 L1438.5,1524.2 L1439.2,1521.7 L1440.0,1519.1 L1440.8,1516.5 L1441.5,1513.8 L1442.2,1511.1 L1443.0,1508.3 L1443.8,1505.6 L1444.5,1502.8 L1445.2,1499.9 L1446.0,1497.1 L1446.8,1494.2 L1447.5,1491.3 L1448.2,1488.3 L1449.0,1485.4 L1449.8,1482.4 L1450.5,1479.5 L1451.2,1476.5 L1452.0,1473.5 L1452.8,1470.6 L1453.5,1467.6 L1454.2,1464.6 L1455.0,1461.7 L1455.8,1458.7 L1456.5,1455.7 L1457.2,1452.8 L1458.0,1449.9 L1458.8,1447.0 L1459.5,1444.1 L1460.2,1441.3 L1461.0,1438.4 L1461.8,1435.6 L1462.5,1432.9 L1463.2,1430.1 L1464.0,1427.4 L1464.8,1424.8 L1465.5,1422.2 L1466.2,1419.6 L1467.0,1417.1 L1467.8,1414.6 L1468.5,1412.1 L1469.5,1409.0 L1470.5,1406.0 L1471.5,1403.0 L1472.5,1400.2 L1473.5,1397.5 L1474.5,1394.9 L1475.5,1392.5 L1476.5,1390.2 L1477.8,1387.5 L1479.0,1385.1 L1480.2,1382.9 L1481.8,1380.6 L1483.5,1378.3 L1485.2,1376.5 L1487.5,1374.9 L1490.0,1374.2 L1492.5,1374.5 L1494.8,1375.7 L1496.8,1377.6 L1498.5,1379.8 L1500.0,1382.2 L1501.2,1384.5 L1502.5,1387.1 L1503.5,1389.5 L1504.5,1392.0 L1505.5,1394.7 L1506.5,1397.6 L1507.5,1400.8 L1508.2,1403.2 L1509.0,1405.8 L1509.8,1408.4 L1510.5,1411.2 L1511.2,1414.0 L1512.0,1416.9 L1512.8,1419.9 L1513.5,1423.0 L1514.2,1426.1 L1515.0,1429.3 L1515.8,1432.6 L1516.5,1436.0 L1517.2,1439.4 L1518.0,1442.8 L1518.8,1446.3 L1519.5,1449.9 L1520.2,1453.5 L1521.0,1457.1 L1521.5,1459.6 L1522.0,1462.1 L1522.5,1464.6 L1523.0,1467.1 L1523.5,1469.6 L1524.0,1472.1 L1524.5,1474.7 L1525.0,1477.3 L1525.5,1479.8 L1526.0,1482.4 L1526.5,1485.0 L1527.0,1487.7 L1527.5,1490.3 L1528.0,1492.9 L1528.5,1495.6 L1529.0,1498.3 L1529.5,1500.9 L1530.0,1503.6 L1530.5,1506.3 L1531.0,1509.0 L1531.5,1511.7 L1532.0,1514.4 L1532.5,1517.1 L1533.0,1519.8 L1533.5,1522.6 L1534.0,1525.3 L1534.5,1528.0 L1535.0,1530.8 L1535.5,1533.5 L1536.0,1536.2 L1536.5,1539.0 L1537.0,1541.7 L1537.5,1544.5 L1538.0,1547.2 L1538.5,1549.9 L1539.0,1552.7 L1539.5,1555.4 L1540.0,1558.1 L1540.5,1560.9 L1541.0,1563.6 L1541.5,1566.3 L1542.0,1569.0 L1542.5,1571.7 L1543.0,1574.4 L1543.5,1577.1 L1544.0,1579.8 L1544.5,1582.5 L1545.0,1585.2 L1545.5,1587.8 L1546.0,1590.5 L1546.5,1593.1 L1547.0,1595.8 L1547.5,1598.4 L1548.0,1601.0 L1548.5,1603.6 L1549.0,1606.2 L1549.5,1608.7 L1550.0,1611.3 L1550.5,1613.8 L1551.0,1616.3 L1551.5,1618.9 L1552.0,1621.3 L1552.5,1623.8 L1553.0,1626.3 L1553.8,1629.9 L1554.5,1633.5 L1555.2,1637.1 L1556.0,1640.6 L1556.8,1644.1 L1557.5,1647.5 L1558.2,1650.8 L1559.0,1654.1 L1559.8,1657.4 L1560.5,1660.6 L1561.2,1663.7 L1562.0,1666.8 L1562.8,1669.8 L1563.5,1672.7 L1564.2,1675.6 L1565.0,1678.4 L1565.8,1681.1 L1566.5,1683.8 L1567.2,1686.4 L1568.0,1689.0 L1568.8,1691.4 L1569.5,1693.9 L1570.5,1697.0 L1571.5,1700.0 L1572.5,1703.0 L1573.5,1705.8 L1574.5,1708.5 L1575.5,1711.1 L1576.5,1713.6 L1577.5,1716.0 L1578.5,1718.4 L1579.8,1721.1 L1581.0,1723.7 L1582.2,1726.2 L1583.5,1728.5 L1584.8,1730.7 L1586.2,1733.2 L1587.8,1735.4 L1589.2,1737.5 L1591.0,1739.7 L1592.8,1741.6 L1594.8,1743.6 L1596.8,1745.2 L1599.0,1746.8 L1601.2,1748.2 L1603.5,1749.4 L1605.8,1750.5 L1608.0,1751.6 L1610.2,1752.8 L1612.5,1754.2 L1614.8,1755.7 L1617.0,1757.4 L1619.0,1759.0 L1621.0,1760.7 L1623.0,1762.6 L1625.0,1764.5 L1627.0,1766.5 L1629.0,1768.5 L1630.8,1770.3 L1632.5,1772.2 L1634.2,1774.0 L1636.0,1775.9 L1637.8,1777.8 L1639.5,1779.6 L1641.2,1781.5 L1643.0,1783.3 L1645.0,1785.3 L1647.0,1787.3 L1649.0,1789.1 L1651.0,1791.0 L1653.0,1792.7 L1655.0,1794.2 L1657.2,1795.9 L1659.5,1797.4 L1661.8,1798.7 L1664.0,1799.9 L1666.5,1801.1 L1669.0,1802.1 L1671.5,1803.0 L1674.0,1803.7 L1676.5,1804.3 L1679.0,1804.8 L1681.5,1805.2 L1684.0,1805.5 L1686.5,1805.6 L1689.0,1805.7 L1691.5,1805.7 L1694.0,1805.7 L1696.5,1805.5 L1699.0,1805.4 L1701.5,1805.1 L1704.0,1804.9 L1706.5,1804.6 L1709.0,1804.3 L1711.5,1804.0 L1714.0,1803.7 L1716.5,1803.3 L1719.0,1803.1 L1721.5,1802.8 L1724.0,1802.6 L1726.5,1802.4 L1729.0,1802.2 L1731.5,1802.1 L1734.0,1802.0 L1736.5,1802.0 L1739.0,1802.0 L1741.5,1802.0 L1744.0,1802.0 L1746.5,1802.0 L1749.0,1802.1 L1751.5,1802.2 L1754.0,1802.2 L1756.5,1802.3 L1759.0,1802.4 L1761.5,1802.4 L1764.0,1802.5 L1766.5,1802.5 L1769.0,1802.6 L1771.5,1802.6 L1774.0,1802.5 L1776.5,1802.5 L1779.0,1802.4 L1781.5,1802.3 L1784.0,1802.1 L1786.5,1801.9 L1789.0,1801.6 L1791.5,1801.3 L1794.0,1801.0 L1796.5,1800.5 L1799.0,1800.1 L1801.5,1799.5 L1804.0,1798.9 L1806.5,1798.3 L1809.0,1797.6 L1811.5,1796.8 L1814.0,1796.0 L1816.5,1795.1 L1819.0,1794.2 L1821.5,1793.3 L1824.0,1792.3 L1826.5,1791.3 L1829.0,1790.2 L1831.5,1789.1 L1834.0,1787.9 L1836.5,1786.7 L1838.8,1785.6 L1841.0,1784.5 L1843.2,1783.3 L1845.5,1782.2 L1847.8,1781.0 L1850.0,1779.8 L1852.2,1778.5 L1854.5,1777.3 L1856.8,1776.0 L1859.0,1774.7 L1861.2,1773.4 L1863.5,1772.1 L1865.8,1770.7 L1868.0,1769.4 L1870.2,1768.0 L1872.5,1766.6 L1874.8,1765.3 L1877.0,1763.9 L1879.2,1762.5 L1881.5,1761.1 L1883.8,1759.7 L1886.0,1758.3 L1888.2,1756.9 L1890.5,1755.5 L1892.8,1754.1 L1895.0,1752.7 L1897.2,1751.3 L1899.5,1749.9 L1901.8,1748.5 L1904.0,1747.1 L1906.2,1745.7 L1908.5,1744.4 L1910.8,1743.0 L1913.0,1741.7 L1915.2,1740.3 L1917.5,1739.0 L1919.8,1737.7 L1922.0,1736.4 L1924.2,1735.2 L1926.5,1733.9 L1928.8,1732.7 L1931.0,1731.5 L1933.2,1730.3 L1935.5,1729.1 L1937.8,1728.0 L1940.0,1726.9 L1942.5,1725.7 L1945.0,1724.5 L1947.5,1723.4 L1950.0,1722.3 L1952.5,1721.2 L1955.0,1720.2 L1957.5,1719.3 L1960.0,1718.3 L1962.5,1717.5 L1965.0,1716.6 L1967.5,1715.8 L1970.0,1715.1 L1972.5,1714.4 L1975.0,1713.8 L1977.5,1713.2 L1980.0,1712.6 L1982.5,1712.1 L1985.0,1711.7 L1987.5,1711.3 L1990.0,1711.0 L1992.5,1710.7 L1995.0,1710.5 L1997.5,1710.3 L2000.0,1710.2 L2002.5,1710.1 L2005.0,1710.1 L2007.5,1710.1 L2010.0,1710.2 L2012.5,1710.4 L2015.0,1710.6 L2017.5,1710.9 L2020.0,1711.3 L2022.5,1711.7 L2025.0,1712.1 L2027.5,1712.7 L2030.0,1713.2 L2032.5,1713.9 L2035.0,1714.6 L2037.5,1715.4 L2040.0,1716.2 L2042.5,1717.2 L2045.0,1718.1 L2047.5,1719.2 L2050.0,1720.3 L2052.5,1721.5 L2054.8,1722.6 L2057.0,1723.8 L2059.2,1725.0 L2061.5,1726.3 L2063.8,1727.6 L2066.0,1729.0 L2068.2,1730.5 L2070.5,1732.0 L2072.8,1733.6 L2075.0,1735.2 L2077.2,1736.9 L2079.2,1738.4 L2081.2,1739.9 L2083.2,1741.5 L2085.2,1743.1 L2087.2,1744.7 L2089.2,1746.3 L2091.2,1747.9 L2093.2,1749.5 L2095.2,1751.1 L2097.2,1752.8 L2099.2,1754.4 L2101.2,1756.0 L2103.2,1757.6 L2105.2,1759.1 L2107.2,1760.7 L2109.2,1762.2 L2111.2,1763.8 L2113.5,1765.4 L2115.8,1767.0 L2118.0,1768.6 L2120.2,1770.1 L2122.5,1771.6 L2124.8,1773.0 L2127.0,1774.3 L2129.2,1775.6 L2131.5,1776.8 L2133.8,1777.9 L2136.2,1779.1 L2138.8,1780.2 L2141.2,1781.2 L2143.8,1782.2 L2146.2,1783.0 L2148.8,1783.8 L2151.2,1784.5 L2153.8,1785.2 L2156.2,1785.7 L2158.8,1786.2 L2161.2,1786.5 L2163.8,1786.8 L2166.2,1787.0 L2168.8,1787.2 L2171.2,1787.2 L2173.8,1787.2 L2176.2,1787.0 L2178.8,1786.8 L2181.2,1786.5 L2183.8,1786.2 L2186.2,1785.7 L2188.8,1785.1 L2191.2,1784.5 L2193.8,1783.8 L2196.2,1783.0 L2198.8,1782.1 L2201.2,1781.1 L2203.8,1780.0 L2206.2,1778.9 L2208.5,1777.7 L2210.8,1776.6 L2213.0,1775.3 L2215.2,1774.0 L2217.5,1772.5 L2219.8,1771.1 L2222.0,1769.5 L2224.2,1767.9 L2226.2,1766.4 L2228.2,1764.8 L2230.2,1763.2 L2232.2,1761.5 L2234.2,1759.7 L2236.2,1757.9 L2238.2,1756.1 L2240.2,1754.1 L2242.2,1752.2 L2244.0,1750.4 L2245.8,1748.5 L2247.5,1746.6 L2249.2,1744.7 L2251.0,1742.7 L2252.8,1740.7 L2254.5,1738.7 L2256.2,1736.5 L2258.0,1734.4 L2259.8,1732.2 L2261.5,1729.9 L2263.2,1727.6 L2265.0,1725.3 L2266.8,1723.1 L2268.5,1720.9 L2270.2,1718.7 L2272.0,1716.6 L2273.8,1714.7 L2275.5,1712.8 L2277.5,1710.9 L2279.5,1709.2 L2281.8,1707.7 L2284.0,1706.4 L2286.5,1705.6 L2287.0,1705.5" stroke="#167014" stroke-linecap="round"/>
</g>
<line x1="1717.5" y1="1244.9" x2="1809.9" y2="1244.9" stroke="#167014" stroke-width="8.5" stroke-linecap="round"/>
<line x1="1717.5" y1="1297.1" x2="1809.9" y2="1297.1" stroke="#167014" stroke-width="8.5" stroke-linecap="round" stroke-dasharray="21 18"/>
<g font-family='"Liberation Sans", Arial, sans-serif' fill="#141414">
<text transform="translate(127.26,233.20) scale(0.9582,1)" font-size="66.0">1,2</text>
<text transform="translate(127.30,591.50) scale(0.9488,1)" font-size="66.0">1,0</text>
<text transform="translate(125.19,952.30) scale(0.9873,1)" font-size="66.0">0,8</text>
<text transform="translate(402.95,1020.20) scale(0.9644,1)" font-size="66.0">500</text>
<text transform="translate(957.66,1019.80) scale(0.9699,1)" font-size="66.0">900</text>
<text transform="translate(463.50,1097.30) scale(0.9663,1)" font-size="66.0">wavelength (nm)</text>
<text transform="translate(83.50,732.33) rotate(-90) scale(0.9721,1)" font-size="66.0">absorbance (a.u.)</text>
<text transform="translate(300.62,139.00) scale(0.9677,1)" font-size="73.0">A</text>
<text stroke="#141414" stroke-width="1.1" transform="translate(853.86,105.50) scale(0.9618,1)" font-size="44.5">GNS</text>
<text stroke="#141414" stroke-width="1.1" transform="translate(852.35,157.00) scale(0.9954,1)" font-size="44.5">PVA + GNS</text>
<text transform="translate(1313.77,104.60) scale(1.0689,1)" font-size="66.0">2</text>
<text transform="translate(1318.58,633.50) scale(0.6901,1)" font-size="66.0">1</text>
<text transform="translate(1538.96,1020.80) scale(0.9625,1)" font-size="66.0">500</text>
<text transform="translate(2095.47,1020.80) scale(0.9670,1)" font-size="66.0">900</text>
<text transform="translate(1602.50,1097.30) scale(0.9663,1)" font-size="66.0">wavelength (nm)</text>
<text transform="translate(1272.40,730.72) rotate(-90) scale(0.9680,1)" font-size="66.0">absorbance (a.u.)</text>
<text transform="translate(1432.32,137.20) scale(1.0264,1)" font-size="73.0">B</text>
<text stroke="#141414" stroke-width="1.1" transform="translate(1869.10,105.30) scale(0.9649,1)" font-size="44.5">mix-Ag/GNS</text>
<text stroke="#141414" stroke-width="1.1" transform="translate(1869.38,156.70) scale(0.9863,1)" font-size="44.5">PVA + mix Ag/GNS</text>
<text transform="translate(176.97,1264.00) scale(1.0689,1)" font-size="66.0">2</text>
<text transform="translate(181.98,2014.00) scale(0.6901,1)" font-size="66.0">1</text>
<text transform="translate(422.10,2156.00) scale(0.9844,1)" font-size="66.0">500</text>
<text transform="translate(962.92,2156.00) scale(0.9814,1)" font-size="66.0">900</text>
<text transform="translate(464.80,2234.30) scale(0.9637,1)" font-size="66.0">wavelength (nm)</text>
<text transform="translate(136.30,1865.61) rotate(-90) scale(0.9650,1)" font-size="66.0">absorbance (a.u.)</text>
<text transform="translate(300.11,1273.30) scale(0.9573,1)" font-size="73.0">C</text>
<text stroke="#141414" stroke-width="1.1" transform="translate(832.15,1259.50) scale(0.9663,1)" font-size="44.5">GNS-C</text>
<text stroke="#141414" stroke-width="1.1" transform="translate(830.69,1311.50) scale(0.9838,1)" font-size="44.5">PVA+GNS-C</text>
<text transform="translate(1313.48,1413.60) scale(1.0656,1)" font-size="66.0">2</text>
<text transform="translate(1318.03,1864.60) scale(0.7006,1)" font-size="66.0">1</text>
<text transform="translate(1559.16,2156.80) scale(0.9615,1)" font-size="66.0">500</text>
<text transform="translate(2097.77,2156.80) scale(0.9651,1)" font-size="66.0">900</text>
<text transform="translate(1603.00,2233.60) scale(0.9653,1)" font-size="66.0">wavelength (nm)</text>
<text transform="translate(1272.40,1865.61) rotate(-90) scale(0.9650,1)" font-size="66.0">absorbance (a.u.)</text>
<text transform="translate(1434.81,1273.50) scale(0.9456,1)" font-size="73.0">D</text>
<text stroke="#141414" stroke-width="1.1" transform="translate(1834.33,1258.00) scale(0.9541,1)" font-size="44.5">mix-Ag/GNS-C</text>
<text stroke="#141414" stroke-width="1.1" transform="translate(1833.45,1311.00) scale(0.9663,1)" font-size="44.5">PVA+mix-Ag/GNS-C</text>
</g>
</svg></body></html>
